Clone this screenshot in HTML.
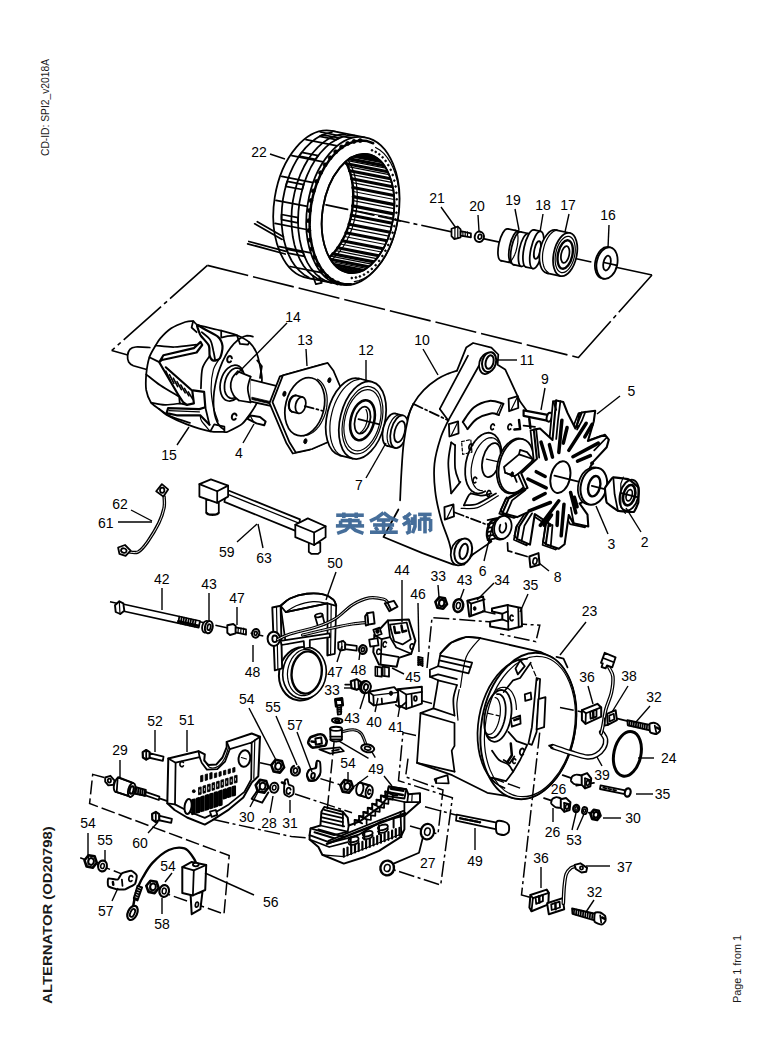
<!DOCTYPE html>
<html><head><meta charset="utf-8"><title>ALTERNATOR (OD20798)</title>
<style>
html,body{margin:0;padding:0;background:#fff;}
body{width:768px;height:1046px;overflow:hidden;position:relative;font-family:"Liberation Sans",sans-serif;}
svg{position:absolute;left:0;top:0;}
.l{font-family:"Liberation Sans",sans-serif;font-size:14px;fill:#000;stroke:none;}
.p{fill:#fff;stroke:#000;stroke-width:1.75;stroke-linejoin:round;stroke-linecap:round;}
.n{fill:none;stroke:#000;stroke-width:1.75;stroke-linejoin:round;stroke-linecap:round;}
.t{fill:none;stroke:#000;stroke-width:1.2;stroke-linecap:round;stroke-linejoin:round;}
.b{fill:none;stroke:#000;stroke-width:2.5;stroke-linecap:round;stroke-linejoin:round;}
.k{fill:#000;stroke:#000;stroke-width:0.8;stroke-linejoin:round;}
.w{fill:#fff;stroke:none;}
.ld{fill:none;stroke:#000;stroke-width:1.4;}
.d{fill:none;stroke:#000;stroke-width:1.6;stroke-dasharray:42 5;}
.dd{fill:none;stroke:#000;stroke-width:1.6;stroke-dasharray:50 4 4 4;}
.ds{fill:none;stroke:#000;stroke-width:1.5;stroke-dasharray:14 4;}
.dm{fill:none;stroke:#000;stroke-width:1.5;stroke-dasharray:16 3.5 3 3.5;}
.st{font-family:"Liberation Sans",sans-serif;fill:#1a1a1a;}
</style></head><body>
<svg width="768" height="1046" viewBox="0 0 768 1046">

<g id="p_side">
<text class="st" transform="translate(49.2,156) rotate(-90)" font-size="11.5" textLength="97" lengthAdjust="spacingAndGlyphs">CD-ID: SPI2_v2018A</text>
<text class="st" transform="translate(52.2,1003.7) rotate(-90)" font-size="13" font-weight="bold" textLength="177.5" lengthAdjust="spacingAndGlyphs">ALTERNATOR (OD20798)</text>
<text class="st" transform="translate(741.2,1003) rotate(-90)" font-size="11.5" textLength="68" lengthAdjust="spacingAndGlyphs">Page 1 from 1</text>
</g>
<g id="p_dash">
<path class="dd" d="M652 275 L326 204.8"/>
<path class="dd" d="M652 275 L578 358"/>
<path class="d" d="M207.4 265.4 L578 357.5"/>
<path class="dd" d="M207.4 265.4 L111.7 350.5"/>
<path class="dd" d="M111.7 350.5 L640 498"/>
<path class="dm" d="M427 668 L432 617.6 L539.8 625.3 L535.8 641.7 L500 634"/>
<path class="dm" d="M416 735.5 L403 732.6 L398.5 780.7 L452.4 797.7 L440.7 885 L388 868"/>
<path class="dm" d="M408 758.6 L405.6 776.8 L443 790 L438 834 L430 832"/>
<path class="dm" d="M213.5 819.6 L291.4 836.5 L310 838"/>
<path class="dm" d="M295 794 L352 812.8"/>
<path class="dm" d="M410 826 L424 830"/>
<path class="dm" d="M421.7 700.8 L432 703.5"/>
<path class="dm" d="M462 677.3 L477 680"/>
<path class="dm" d="M425 806.8 L456 815"/>
</g>
<g id="p_stator">
<ellipse class="p" cx="319.9" cy="204.5" rx="45.7" ry="74.6" transform="rotate(9 319.9 204.5)"/>
<path class="w" d="M364.6 137.3 L331.6 130.8 L308.2 278.2 L341.2 284.7 Z"/>
<path class="n" d="M364.6 137.3 L331.6 130.8"/>
<path class="n" d="M341.2 284.7 L308.2 278.2"/>
<path class="n" d="M331.4 282.8 L325.8 280.9 L320.5 277.9 L315.6 273.8 L311.2 268.6 L307.3 262.4 L304.1 255.4 L301.5 247.6 L299.6 239.2 L298.4 230.3 L298 221.1 L298.4 211.7 L299.5 202.2 L301.4 192.9 L303.9 183.8 L307.2 175.1 L311 167 L315.4 159.6 L320.3 153 L325.6 147.4 L331.1 142.7 L337 139.2 L342.9 136.7 L348.8 135.5 L354.7 135.5"/>
<path class="n" d="M322.5 280.9 L317.2 278.6 L312.2 275.3 L307.6 271 L303.5 265.7 L299.9 259.5 L296.9 252.6 L294.5 244.9 L292.8 236.8 L291.8 228.1 L291.4 219.2 L291.8 210.1 L292.9 200.9 L294.7 191.9 L297.1 183.1 L300.2 174.7 L303.9 166.8 L308 159.5 L312.7 153 L317.7 147.3 L323 142.6 L328.6 138.8 L334.3 136.1 L340 134.5 L345.7 134.1"/>
<path class="n" d="M308.8 277.4 L304 274.7 L299.6 270.9 L295.5 266.4 L291.8 261 L288.7 254.8 L286.1 248 L284 240.6 L282.6 232.8 L281.7 224.6 L281.5 216.2 L282 207.6 L283 199 L284.7 190.5 L286.9 182.2 L289.7 174.2 L293.1 166.7 L296.9 159.7 L301.1 153.3 L305.7 147.6 L310.6 142.8 L315.7 138.7 L321 135.6 L326.4 133.5 L331.8 132.3"/>
<path class="n" d="M321.4 272.7 L290.1 266.5"/>
<path class="n" d="M310.8 252.9 L279.5 246.7"/>
<path class="n" d="M306.5 229.5 L275.1 223.3"/>
<path class="n" d="M307.4 206.4 L276 200.3"/>
<path class="n" d="M313.1 182.6 L281.8 176.4"/>
<path class="n" d="M323.2 161.9 L291.9 155.7"/>
<path class="n" d="M337.3 145.9 L306 139.7"/>
<path class="n" d="M351.7 138.2 L320.3 132"/>
<path class="n" d="M304.5 256.4 L288 253.2 L286.4 249.1 L302.9 252.3 Z"/>
<path class="n" d="M298 222.8 L281.5 219.6 L281.6 214.5 L298.1 217.7 Z"/>
<path class="n" d="M302.2 189.5 L285.7 186.3 L287.2 181.4 L303.7 184.6 Z"/>
<path class="n" d="M315.6 159.3 L299.1 156.1 L301.7 152.4 L318.2 155.6 Z"/>
<path class="n" d="M336.2 139.6 L319.7 136.3 L322.9 134.8 L339.4 138 Z"/>
<ellipse class="p" cx="352.9" cy="211" rx="45.7" ry="74.6" transform="rotate(9 352.9 211)"/>
<path class="b" d="M350.9 284.2 L344.4 284.3 L338.2 282.8 L332.3 279.9 L326.9 275.5 L322 269.8 L317.9 262.9 L314.5 255 L312 246.1 L310.3 236.5 L309.6 226.4 L309.9 216.1 L311 205.6 L313.1 195.3 L316.1 185.4 L319.9 176 L324.4 167.4 L329.6 159.8 L335.3 153.2 L341.3 147.9 L347.7 144 L354.2 141.6 L360.7 140.6 L367.1 141.1 L373.2 143.2"/>
<path class="t" d="M375.6 147.5 L379.8 150 L383.8 153.4 L387.3 157.6 L390.5 162.6 L393.3 168.3 L395.6 174.5 L397.4 181.3 L398.6 188.6 L399.3 196.1 L399.4 203.9 L399 211.9 L398 219.8 L396.5 227.7 L394.4 235.4 L391.9 242.8 L388.9 249.7 L385.5 256.2 L381.7 262.2 L377.6 267.4 L373.2 271.9 L368.7 275.7 L363.9 278.6 L359.1 280.6 L354.3 281.7"/>
<circle cx="337.7" cy="283" r="2" class="k"/>
<circle cx="332" cy="280.3" r="2" class="k"/>
<circle cx="326.7" cy="276.3" r="2" class="k"/>
<circle cx="321.9" cy="271.1" r="2" class="k"/>
<circle cx="317.8" cy="264.7" r="2" class="k"/>
<circle cx="314.4" cy="257.3" r="2" class="k"/>
<circle cx="311.7" cy="249" r="2" class="k"/>
<circle cx="309.8" cy="240" r="2" class="k"/>
<circle cx="308.8" cy="230.5" r="2" class="k"/>
<circle cx="308.6" cy="220.7" r="2" class="k"/>
<circle cx="309.4" cy="210.6" r="2" class="k"/>
<circle cx="310.9" cy="200.6" r="2" class="k"/>
<circle cx="313.3" cy="190.9" r="2" class="k"/>
<circle cx="316.5" cy="181.5" r="2" class="k"/>
<circle cx="320.5" cy="172.8" r="2" class="k"/>
<circle cx="325" cy="164.8" r="2" class="k"/>
<circle cx="330.1" cy="157.8" r="2" class="k"/>
<circle cx="335.7" cy="151.8" r="2" class="k"/>
<circle cx="341.6" cy="147" r="2" class="k"/>
<circle cx="347.7" cy="143.5" r="2" class="k"/>
<circle cx="354" cy="141.4" r="2" class="k"/>
<circle cx="360.2" cy="140.6" r="2" class="k"/>
<circle cx="372" cy="150.3" r="0.9" class="k"/>
<circle cx="375.7" cy="151.9" r="0.9" class="k"/>
<circle cx="379.3" cy="154.3" r="0.9" class="k"/>
<circle cx="382.6" cy="157.3" r="0.9" class="k"/>
<circle cx="385.6" cy="160.9" r="0.9" class="k"/>
<circle cx="388.3" cy="165.1" r="0.9" class="k"/>
<circle cx="390.7" cy="169.8" r="0.9" class="k"/>
<circle cx="392.7" cy="175" r="0.9" class="k"/>
<circle cx="394.3" cy="180.6" r="0.9" class="k"/>
<circle cx="395.6" cy="186.5" r="0.9" class="k"/>
<circle cx="396.4" cy="192.8" r="0.9" class="k"/>
<circle cx="396.8" cy="199.3" r="0.9" class="k"/>
<circle cx="396.8" cy="206" r="0.9" class="k"/>
<circle cx="396.4" cy="212.7" r="0.9" class="k"/>
<circle cx="395.5" cy="219.4" r="0.9" class="k"/>
<circle cx="394.3" cy="226.1" r="0.9" class="k"/>
<circle cx="392.6" cy="232.7" r="0.9" class="k"/>
<circle cx="390.6" cy="239" r="0.9" class="k"/>
<circle cx="388.2" cy="245" r="0.9" class="k"/>
<circle cx="385.4" cy="250.7" r="0.9" class="k"/>
<circle cx="382.4" cy="256" r="0.9" class="k"/>
<circle cx="379.1" cy="260.9" r="0.9" class="k"/>
<circle cx="375.6" cy="265.2" r="0.9" class="k"/>
<circle cx="371.8" cy="268.9" r="0.9" class="k"/>
<circle cx="368" cy="272.1" r="0.9" class="k"/>
<circle cx="364" cy="274.6" r="0.9" class="k"/>
<circle cx="359.9" cy="276.4" r="0.9" class="k"/>
<circle cx="355.9" cy="277.5" r="0.9" class="k"/>
<circle cx="351.8" cy="278" r="0.9" class="k"/>
<ellipse class="p" cx="358" cy="213.5" rx="35.5" ry="60" transform="rotate(9 358 213.5)"/>
<clipPath id="boreclip"><ellipse cx="358" cy="213.5" rx="35.5" ry="60" transform="rotate(9 358 213.5)"/></clipPath>
<g clip-path="url(#boreclip)">
<path class="b" d="M328.8 146.8 L369.8 154.8" style="stroke-width:3.2"/>
<path class="t" d="M331.2 147.6 L372.2 155.6"/>
<path class="b" d="M334 149 L375 157" style="stroke-width:3.2"/>
<path class="t" d="M336.2 150.5 L377.2 158.5"/>
<path class="b" d="M338.8 152.6 L379.8 160.6" style="stroke-width:3.2"/>
<path class="t" d="M340.8 154.7 L381.8 162.7"/>
<path class="b" d="M343.1 157.6 L384.1 165.6" style="stroke-width:3.2"/>
<path class="t" d="M344.8 160.1 L385.8 168.1"/>
<path class="b" d="M346.7 163.7 L387.7 171.7" style="stroke-width:3.2"/>
<path class="t" d="M348.1 166.7 L389.1 174.7"/>
<path class="b" d="M349.6 170.8 L390.6 178.8" style="stroke-width:3.2"/>
<path class="t" d="M350.7 174.3 L391.7 182.3"/>
<path class="b" d="M351.7 178.8 L392.7 186.8" style="stroke-width:3.2"/>
<path class="t" d="M352.4 182.6 L393.4 190.6"/>
<path class="b" d="M352.9 187.5 L393.9 195.5" style="stroke-width:3.2"/>
<path class="t" d="M353.2 191.5 L394.2 199.5"/>
<path class="b" d="M353.3 196.6 L394.3 204.6" style="stroke-width:3.2"/>
<path class="t" d="M353.2 200.7 L394.2 208.7"/>
<path class="b" d="M352.7 205.9 L393.7 213.9" style="stroke-width:3.2"/>
<path class="t" d="M352.2 210 L393.2 218"/>
<path class="b" d="M351.3 215.2 L392.3 223.2" style="stroke-width:3.2"/>
<path class="t" d="M350.4 219.2 L391.4 227.2"/>
<path class="b" d="M349.1 224.2 L390.1 232.2" style="stroke-width:3.2"/>
<path class="t" d="M347.8 228.1 L388.8 236.1"/>
<path class="b" d="M346 232.8 L387 240.8" style="stroke-width:3.2"/>
<path class="t" d="M344.4 236.5 L385.4 244.5"/>
<path class="b" d="M342.2 240.8 L383.2 248.8" style="stroke-width:3.2"/>
<path class="t" d="M340.3 244 L381.3 252"/>
<path class="b" d="M337.8 247.8 L378.8 255.8" style="stroke-width:3.2"/>
<path class="t" d="M335.7 250.7 L376.7 258.7"/>
<path class="b" d="M332.9 253.9 L373.9 261.9" style="stroke-width:3.2"/>
<path class="t" d="M330.6 256.2 L371.6 264.2"/>
<path class="b" d="M327.6 258.7 L368.6 266.7" style="stroke-width:3.2"/>
<path class="t" d="M325.2 260.4 L366.2 268.4"/>
<path class="b" d="M322.1 262.2 L363.1 270.2" style="stroke-width:3.2"/>
<path class="t" d="M319.5 263.3 L360.5 271.3"/>
<path class="b" d="M316.4 264.3 L357.4 272.3" style="stroke-width:3.2"/>
<path class="t" d="M313.8 264.8 L354.8 272.8"/>
<path class="b" d="M310.7 265 L351.7 273" style="stroke-width:3.2"/>
<path class="t" d="M308.2 264.8 L349.2 272.8"/>
<path class="b" d="M323.3 146 L328.2 146.6 L332.8 148.3 L337.2 151.2 L341.1 155 L344.6 159.9 L347.6 165.6 L350 172 L351.8 179.1 L352.9 186.7 L353.3 194.7 L353 202.8 L352.1 211.1 L350.4 219.2 L348.2 227 L345.3 234.5 L341.9 241.3 L338 247.5 L333.8 252.9 L329.2 257.4 L324.3 261 L319.4 263.4 L314.4 264.7 L309.4 265 L304.6 264.1"/>
<path class="t" d="M327.3 147 L332.2 147.6 L336.8 149.3 L341.2 152.2 L345.1 156 L348.6 160.9 L351.6 166.6 L354 173 L355.8 180.1 L356.9 187.7 L357.3 195.7 L357 203.8 L356.1 212.1 L354.4 220.2 L352.2 228 L349.3 235.5 L345.9 242.3 L342 248.5 L337.8 253.9 L333.2 258.4 L328.3 262 L323.4 264.4 L318.4 265.7 L313.4 266 L308.6 265.1"/>
</g>
<ellipse class="n" cx="358" cy="213.5" rx="35.5" ry="60" transform="rotate(9 358 213.5)"/>
<path class="n" d="M254.7 223.8 L282.1 239.4"/>
<path class="n" d="M257.3 221.7 L283.4 236.8"/>
<path class="n" d="M247.7 243.8 L285.2 254"/>
<path class="n" d="M248.8 241.5 L286 251.4"/>
<path class="n" d="M312.8 275.8 L315.9 284.2 L321.7 282.9 L319.1 276.4"/>
<path class="n" d="M326 204.8 L402 221.2" stroke-dasharray="22 5"/>
</g>
<g id="p_top">
<path class="p" d="M451.5 228.8 L457.8 226.5 L460.6 229.3 L460.6 237.3 L454.3 239.1 L451.5 236.2 Z"/>
<path class="t" d="M454.9 228.2 L454.9 237.9"/>
<path class="t" d="M457.8 227 L457.8 237.9"/>
<path class="p" d="M460.6 231 L470.9 233.3 L470.9 237.3 L460.6 235.6 Z"/>
<path class="t" d="M462.9 231.9 L462.9 236.2"/>
<path class="t" d="M465.2 231.9 L465.2 236.2"/>
<path class="t" d="M467.5 231.9 L467.5 236.2"/>
<ellipse class="p" cx="479.3" cy="236.8" rx="4.6" ry="5.2" transform="rotate(12 479.3 236.8)" style="stroke-width:2"/>
<ellipse class="n" cx="479.9" cy="236.8" rx="1.8" ry="2.4" transform="rotate(12 479.9 236.8)"/>
<ellipse class="p" cx="504.3" cy="244.8" rx="5.5" ry="16.3" transform="rotate(12 504.3 244.8)"/>
<path class="w" d="M518.5 231.1 L507.7 228.9 L500.9 260.7 L511.7 263 Z"/>
<path class="n" d="M518.5 231.1 L507.7 228.9"/>
<path class="n" d="M511.7 263 L500.9 260.7"/>
<ellipse class="p" cx="515.1" cy="247.1" rx="5.5" ry="16.3" transform="rotate(12 515.1 247.1)"/>
<ellipse class="p" cx="517" cy="248.3" rx="5.5" ry="16.8" transform="rotate(12 517 248.3)"/>
<path class="w" d="M528.3 233.5 L520.5 231.9 L513.5 264.7 L521.3 266.4 Z"/>
<path class="n" d="M528.3 233.5 L520.5 231.9"/>
<path class="n" d="M521.3 266.4 L513.5 264.7"/>
<ellipse class="p" cx="524.8" cy="250" rx="5.5" ry="16.8" transform="rotate(12 524.8 250)"/>
<path class="t" d="M515 230 L515.7 230.3 L516.3 230.8 L516.8 231.7 L517.3 232.7 L517.6 234 L517.8 235.5 L518 237.1 L518 239 L517.9 240.9 L517.7 242.9 L517.4 245 L517 247.1 L516.5 249.2 L516 251.2 L515.3 253.1 L514.6 254.9 L513.8 256.6 L513 258 L512.2 259.3 L511.4 260.3 L510.6 261.1 L509.8 261.6 L509 261.9 L508.2 261.9"/>
<ellipse class="p" cx="530" cy="248.5" rx="6" ry="19" transform="rotate(12 530 248.5)"/>
<path class="w" d="M540.8 231.4 L534 229.9 L526.1 267.1 L532.9 268.5 Z"/>
<path class="n" d="M540.8 231.4 L534 229.9"/>
<path class="n" d="M532.9 268.5 L526.1 267.1"/>
<ellipse class="p" cx="536.8" cy="250" rx="6" ry="19" transform="rotate(12 536.8 250)"/>
<ellipse class="n" cx="537.4" cy="250" rx="3" ry="9" transform="rotate(12 537.4 250)"/>
<ellipse class="p" cx="551.5" cy="251.6" rx="11.5" ry="22" transform="rotate(12 551.5 251.6)"/>
<path class="w" d="M569.8 233 L556.1 230.1 L546.9 273.2 L560.6 276.1 Z"/>
<path class="n" d="M569.8 233 L556.1 230.1"/>
<path class="n" d="M560.6 276.1 L546.9 273.2"/>
<ellipse class="p" cx="565.2" cy="254.5" rx="11.5" ry="22" transform="rotate(12 565.2 254.5)"/>
<ellipse class="t" cx="565.2" cy="254.5" rx="9.5" ry="18.5" transform="rotate(12 565.2 254.5)"/>
<ellipse class="n" cx="565.2" cy="254.5" rx="7.2" ry="14.5" transform="rotate(12 565.2 254.5)" style="stroke-width:2.4"/>
<ellipse class="n" cx="565.2" cy="254.5" rx="4" ry="8.5" transform="rotate(12 565.2 254.5)"/>
<path class="t" d="M548.2 272.5 L547 271.6 L546 270.5 L545 269.1 L544.2 267.5 L543.6 265.7 L543.1 263.7 L542.7 261.5 L542.5 259.2 L542.5 256.8 L542.6 254.3 L542.9 251.8 L543.4 249.3 L544 246.8 L544.7 244.4 L545.6 242.1 L546.6 239.9 L547.7 237.9 L548.9 236 L550.2 234.4 L551.6 233 L553 231.8 L554.4 231 L555.8 230.4 L557.2 230.1"/>
<ellipse class="p" cx="605.5" cy="262.8" rx="10.3" ry="16" transform="rotate(12 605.5 262.8)"/>
<ellipse class="p" cx="607" cy="263.1" rx="10.3" ry="16" transform="rotate(12 607 263.1)" style="stroke-width:1.8"/>
<ellipse class="p" cx="607" cy="263.1" rx="3.6" ry="7.5" transform="rotate(12 607 263.1)" style="stroke-width:1.8"/>
<path class="n" d="M604 262.5 L617 265.3"/>
</g>
<g id="p_rotor">
<path class="p" d="M149.8 347.5 C147.5 347.4 139.1 346.7 135.8 347 C132.5 347.3 131.3 347.9 129.9 349.4 C128.6 350.8 127.8 353.6 127.6 355.7 C127.4 357.8 127.8 360.3 128.7 362 C129.7 363.7 130.1 364.4 133.4 365.8 C136.8 367.1 146.1 369.3 148.7 370"/>
<path class="p" d="M155.6 345.5 C156.9 343.3 158.5 340.4 160.3 338.4 C162.1 336.4 168.3 330.2 171.2 328.3 C174.2 326.4 182.8 322.9 185.3 322 C187.9 321.2 191.6 320.9 193.1 321.2 C194.6 321.6 194.8 324.1 198.1 325.2 C201.4 326.2 216.7 329.4 221.2 330.6 C225.8 331.8 233.6 333.9 236.9 335.3 C240.2 336.7 247.1 340.3 249.4 342.3 C251.7 344.3 255.2 349.7 256.4 352.5 C257.6 355.3 259.4 363 260 366.2 C260.6 369.5 262.3 375.9 261.9 380.3 C261.5 384.7 258.7 398.7 256.5 403.7 C254.2 408.8 245.8 420.4 242.4 423.7 C239 426.9 229.3 430.9 227.2 431.9 C225.1 432.8 226.3 431.9 224.4 431.9 C222.4 431.8 214.7 432.3 210.3 431.4 C205.9 430.5 192 426.3 186.9 424.4 C181.8 422.5 169.8 416.8 166.6 415 C163.3 413.2 160.6 410.2 158.8 408.8 C156.9 407.3 152.4 404.7 150.9 402.5 C149.5 400.3 146.8 393.3 146.2 390 C145.7 386.7 145.9 378.2 146.2 374.4 C146.6 370.5 148.3 360.6 149.4 357.2 C150.5 353.8 154.3 347.7 155.6 345.5 Z"/>
<path class="n" d="M224 429.5 L221.5 427.8 L219.2 425.4 L217.3 422.2 L215.8 418.4 L214.6 413.9 L213.8 409 L213.5 403.6 L213.6 397.8 L214.1 391.8 L215.1 385.6 L216.4 379.4 L218.1 373.3 L220.2 367.3 L222.5 361.6 L225.2 356.3 L228 351.4 L231.1 347.1 L234.3 343.3 L237.5 340.3 L240.8 338 L244 336.5 L247.1 335.7 L250.1 335.8 L252.9 336.7"/>
<ellipse class="p" cx="232.3" cy="383.1" rx="11.7" ry="18.3" transform="rotate(15 232.3 383.1)"/>
<path class="n" d="M235.4 397.3 L233.7 398 L232 398.3 L230.3 398.1 L228.8 397.4 L227.5 396.3 L226.3 394.8 L225.4 393 L224.8 390.9 L224.5 388.5 L224.5 385.9 L224.7 383.3 L225.3 380.7 L226.1 378.1 L227.2 375.7 L228.5 373.5 L230 371.7 L231.6 370.1 L233.3 369 L235 368.2 L236.7 368 L238.3 368.2 L239.8 368.8 L241.2 369.9 L242.3 371.4"/>
<path class="p" d="M250.1 379.4 L282.3 387.3 L277.6 407.3 L250.1 401.4 Z"/>
<path class="w" d="M236.6 371.4 L250.6 376.6 L250.6 402.3 L237.7 400.5 L231.4 392 L231.4 380.3 Z"/>
<path class="n" d="M237.7 371.4 C236.8 372.5 233.5 375.3 232.3 378 C231.2 380.6 230.5 384.4 230.7 387.3 C230.9 390.3 232.4 393.4 233.7 395.5 C235.1 397.7 238 399.6 238.9 400.5"/>
<path class="n" d="M237.7 371.4 L250.6 376.6"/>
<path class="n" d="M238.9 400.5 L250.6 402.3"/>
<path class="n" d="M250.6 376.6 C250.1 378.5 247.8 384.2 247.8 388.5 C247.8 392.8 250.1 400 250.6 402.3"/>
<path class="k" d="M251.8 397.2 L271.7 401.9 L271.7 404.2 L251.8 399.5 Z"/>
<path class="n" d="M231 361.3 L230.1 362.1 L229.1 362.4 L228.1 362 L227.5 361.2 L227.2 360 L227.3 358.6 L227.9 357.4 L228.7 356.5 L229.7 356.1 L230.7 356.3 L231.5 357 L231.9 358.2" style="stroke-width:2"/>
<path class="n" d="M235.7 418.7 L234.8 419.5 L233.8 419.8 L232.8 419.5 L232.1 418.6 L231.8 417.4 L232 416 L232.5 414.8 L233.4 413.9 L234.4 413.5 L235.4 413.7 L236.2 414.4 L236.5 415.6" style="stroke-width:2"/>
<path class="n" d="M257.2 360.4 L261.9 366.2 L260 378"/>
<path class="n" d="M159.5 361.9 L163.4 355.3 L193.9 348.1 L200.6 341.9 L202.2 345 L196.6 352.5 L161.9 360 Z" style="stroke-width:2.2"/>
<path class="n" d="M159.5 362.7 L179.1 396.2 L183.4 402.5 L186.9 404.8 L193.9 403.3 L192.3 390.8 L165.8 367.3" style="stroke-width:2.2"/>
<path class="n" d="M165.8 371.2 L170.2 380.3" style="stroke-width:1.6"/>
<path class="n" d="M169.5 374.7 L173.9 383.4" style="stroke-width:1.6"/>
<path class="n" d="M173.3 378.1 L177.7 386.6" style="stroke-width:1.6"/>
<path class="n" d="M177 381.6 L181.4 389.7" style="stroke-width:1.6"/>
<path class="n" d="M180.8 385 L185.2 392.8" style="stroke-width:1.6"/>
<path class="n" d="M184.5 388.4 L188.9 395.9" style="stroke-width:1.6"/>
<path class="n" d="M188.3 391.9 L192.7 399.1" style="stroke-width:1.6"/>
<path class="n" d="M179.1 396.2 L179.8 403.3 L186.9 404.8"/>
<path class="n" d="M155.6 345.5 C158.8 345.7 167.6 347.2 174.4 347 C181.1 346.9 192.6 345.1 196.2 344.7"/>
<path class="n" d="M149.4 357.2 L158.8 361.9"/>
<path class="n" d="M146.2 374.4 C148.6 376.2 155 381.7 160.3 385.3 C165.7 389 175.3 394.4 178.3 396.2"/>
<path class="n" d="M150.9 402.5 C153.3 402.9 160.1 404.7 165 404.8 C169.9 405 178 403.5 180.6 403.3"/>
<path class="n" d="M197 325.9 C197.5 327.2 199.1 332.7 200.6 335.3 C202.2 337.9 207.5 342.7 208.8 345.5 C210 348.2 209.1 353.9 209.7 355.9 C210.3 358 212.1 360.4 213.4 360.6 C214.8 360.9 218.8 359.9 220 358 C221.2 356.1 222.8 349.1 222.5 346.2 C222.2 343.4 220.4 339.1 218.1 336.9 C215.9 334.7 208.3 331.4 205.6 329.8 C203 328.3 199.1 325.8 198.1 325.2" style="stroke-width:2.2"/>
<path class="n" d="M201.7 332.2 C202.9 333.2 208.8 337.5 210.3 340 C211.9 342.5 212.8 348.3 213.4 350.9 C214.1 353.5 214.8 358.4 215 359.5"/>
<path class="n" d="M193.1 321.2 L191.6 327.5 L196.6 332.2"/>
<path class="n" d="M221.2 330.6 L221.2 337.7 L227.5 336.1 L236.9 335.3"/>
<path class="n" d="M236.9 335.3 L240 343.9 L247.8 344.7 L249.4 342.3"/>
<path class="n" d="M209.7 355.9 C208.5 358 204 362.7 202.5 368.1 C201 373.5 201.2 385.1 200.9 388.4"/>
<path class="t" d="M220 358 C218.9 359.9 214.9 364.6 213.4 369.7 C212 374.8 211.1 382.2 211.1 388.4 C211.1 394.7 212.3 401.7 213.4 407.2 C214.6 412.7 217.3 418.9 218.1 421.2"/>
<path class="n" d="M193.1 390.3 L204.1 391.9 L205.3 407.2 L199.4 409.1 L168.1 408.1 L166.6 413.1 L176.7 415.3 L200.2 415.3 L209.5 424.7" style="stroke-width:2.2"/>
<path class="n" d="M205.3 407.2 L209.5 424.7"/>
<path class="t" d="M168.9 410.6 L199.4 411.9"/>
<path class="n" d="M158.8 408.8 C160.8 410.1 166 414.2 171.2 416.6 C176.5 418.9 186.9 421.8 190 422.8"/>
<path class="t" d="M200.2 415.3 C200.4 416.3 200 418.6 201.7 421.2 C203.4 423.9 208.9 429.7 210.3 431.4"/>
<path class="n" d="M210.3 431.4 L214.2 424.4 L224.4 426.7 L224.4 431.9"/>
<path class="p" d="M247.1 418.7 L250.1 415.5 L260 416.9 L265.6 421.6 L264.2 425.3 L256.5 423.4 Z" style="stroke-width:2"/>
<path class="t" d="M250.1 415.5 L253.4 421.6"/>
</g>
<g id="p_mid">
<path class="p" d="M269.5 403.1 L279.9 376.4 L324.7 363.9 L330.3 371.4 L337.2 387.5 L337.2 413.5 L325.8 442.7 L309.1 450 L292.8 453.5 L286.2 442.7 Z"/>
<path class="p" d="M272.5 402.1 L282.9 375.4 L327.7 362.9 L333.3 370.4 L340.2 386.5 L340.2 412.5 L328.8 441.7 L312.1 449 L295.8 452.5 L289.2 441.7 Z"/>
<ellipse class="n" cx="304.8" cy="406.7" rx="19.2" ry="29.6" transform="rotate(14 304.8 406.7)"/>
<path class="t" d="M317.6 379.2 L319.5 380.5 L321.2 382.1 L322.8 384.1 L324.1 386.4 L325.3 389 L326.1 391.8 L326.8 394.8 L327.1 397.9 L327.2 401.2 L327 404.6 L326.6 407.9 L325.9 411.3 L324.9 414.6 L323.7 417.8 L322.3 420.8 L320.7 423.7 L318.9 426.3 L316.9 428.7 L314.8 430.7 L312.7 432.5 L310.4 433.8 L308.1 434.9 L305.8 435.5 L303.5 435.7"/>
<ellipse class="k" cx="284.4" cy="393.8" rx="1.6" ry="2.6" transform="rotate(14 284.4 393.8)"/>
<ellipse class="k" cx="329.4" cy="380.2" rx="1.6" ry="2.6" transform="rotate(14 329.4 380.2)"/>
<ellipse class="k" cx="305.4" cy="441.2" rx="1.6" ry="2.6" transform="rotate(14 305.4 441.2)"/>
<ellipse class="p" cx="293.8" cy="403.5" rx="5" ry="8.3" transform="rotate(14 293.8 403.5)"/>
<path class="w" d="M302.6 397.1 L295.8 395.4 L291.8 411.6 L298.6 413.3 Z"/>
<path class="n" d="M302.6 397.1 L295.8 395.4"/>
<path class="n" d="M298.6 413.3 L291.8 411.6"/>
<ellipse class="p" cx="300.6" cy="405.2" rx="5" ry="8.3" transform="rotate(14 300.6 405.2)"/>
<path class="n" d="M291.5 411.5 L291.1 411.1 L290.6 410.7 L290.2 410.1 L289.9 409.5 L289.6 408.8 L289.4 408 L289.2 407.2 L289.1 406.3 L289.1 405.4 L289.2 404.4 L289.3 403.5 L289.5 402.5 L289.8 401.6 L290.1 400.7 L290.5 399.8 L290.9 399 L291.4 398.3 L292 397.6 L292.5 397 L293.1 396.5 L293.7 396.1 L294.3 395.8 L294.9 395.7 L295.5 395.6"/>
<path class="n" d="M304.8 406.2 L322.5 410.8" stroke-dasharray="9 3 2 3"/>
<ellipse class="p" cx="349.4" cy="416.9" rx="22.3" ry="39.6" transform="rotate(14 349.4 416.9)"/>
<path class="w" d="M372.1 381.8 L359 378.5 L339.8 455.3 L352.9 458.6 Z"/>
<path class="n" d="M372.1 381.8 L359 378.5"/>
<path class="n" d="M352.9 458.6 L339.8 455.3"/>
<ellipse class="p" cx="362.5" cy="420.2" rx="22.3" ry="39.6" transform="rotate(14 362.5 420.2)"/>
<ellipse class="t" cx="362.5" cy="420.2" rx="19.2" ry="34.4" transform="rotate(14 362.5 420.2)"/>
<ellipse class="t" cx="362.5" cy="420.2" rx="17.5" ry="31.2" transform="rotate(14 362.5 420.2)"/>
<ellipse class="n" cx="362.5" cy="420.2" rx="11.7" ry="20.4" transform="rotate(14 362.5 420.2)" style="stroke-width:2.6"/>
<ellipse class="n" cx="362.5" cy="420.2" rx="7.5" ry="13.8" transform="rotate(14 362.5 420.2)"/>
<path class="t" d="M366 409.6 L366.4 410.3 L366.7 411.2 L367 412.1 L367.2 413 L367.4 414 L367.5 415.1 L367.5 416.2 L367.5 417.4 L367.4 418.5 L367.2 419.7 L367 420.9 L366.8 422 L366.5 423.2 L366.1 424.3 L365.7 425.4 L365.2 426.5 L364.7 427.5 L364.1 428.5 L363.6 429.3 L362.9 430.2 L362.3 430.9 L361.6 431.6 L360.9 432.2 L360.3 432.7"/>
<path class="t" d="M340.3 455.1 L338.1 453.5 L336.1 451.3 L334.4 448.8 L332.9 445.8 L331.7 442.4 L330.8 438.8 L330.2 434.8 L329.9 430.6 L329.9 426.3 L330.2 421.8 L330.9 417.3 L331.9 412.8 L333.1 408.4 L334.7 404.1 L336.5 400 L338.5 396.2 L340.7 392.6 L343.1 389.4 L345.6 386.6 L348.3 384.2 L351 382.3 L353.7 380.8 L356.5 379.9 L359.2 379.4"/>
<path class="n" d="M358.5 419.2 L378.5 424.2"/>
<ellipse class="p" cx="391.4" cy="429.7" rx="8.3" ry="16.7" transform="rotate(14 391.4 429.7)"/>
<path class="w" d="M403.2 415.5 L395.4 413.6 L387.4 445.9 L395.1 447.8 Z"/>
<path class="n" d="M403.2 415.5 L395.4 413.6"/>
<path class="n" d="M395.1 447.8 L387.4 445.9"/>
<ellipse class="p" cx="399.2" cy="431.7" rx="8.3" ry="16.7" transform="rotate(14 399.2 431.7)"/>
<ellipse class="n" cx="399.7" cy="431.7" rx="5" ry="10.8" transform="rotate(14 399.7 431.7)"/>
<path class="t" d="M390.8 446.7 L390 446.1 L389.3 445.2 L388.6 444.2 L388.1 442.9 L387.7 441.5 L387.4 440 L387.2 438.4 L387.1 436.6 L387.2 434.8 L387.4 432.9 L387.7 431 L388.1 429.2 L388.6 427.3 L389.2 425.5 L389.9 423.7 L390.8 422.1 L391.6 420.6 L392.6 419.2 L393.6 418 L394.6 417 L395.6 416.2 L396.7 415.5 L397.7 415.1 L398.7 414.9"/>
</g>
<g id="p_housing10">
<path class="w" d="M457 370.6 L466.2 347.6 L473.1 343 L491.4 347.6 L498.3 354.5 L497.6 364.8 L505.2 369.4 L520.1 401.6 L529.3 414.2 L541.9 431.4 L541.9 495.7 L514.4 525.5 L491.4 541.6 L473.1 554.2 L463.9 564.6 L453.5 564.6 L422.5 553.1 L383.5 537 L398.4 509.5 L400.7 472.7 L403 442.9 L407.6 417.6 L413.4 403.9 L423.7 390.1 L437.5 378.6 Z"/>
<path class="p" d="M407.6 417.6 C408.6 415.3 410.7 408.5 413.4 403.9 C416 399.3 419.7 394.2 423.7 390.1 C427.7 386 433.4 381.8 437.5 379.1 C441.6 376.3 445 375 448.3 373.6 C451.5 372.2 455.5 371.1 457 370.6"/>
<path class="n" d="M457 370.6 L466.2 347.6 L473.1 343 L491.4 347.6 L498.3 354.5 L497.6 364.8 L505.2 369.4 L520.1 401.6 L529.3 414.2"/>
<path class="n" d="M473.1 554.2 L463.9 564.6 L453.5 564.6 L422.5 553.1 L383.5 537 L398.4 509.5"/>
<path class="n" d="M491.4 541.6 L473.1 554.2"/>
<path class="n" d="M468 355.7 L439.8 408.9"/>
<path class="n" d="M478.8 366 L448.3 420.4"/>
<path class="n" d="M439.8 408.9 L448.3 420.4"/>
<path class="n" d="M413.4 403.9 L448.3 420.4" stroke-dasharray="10 3 2 3"/>
<ellipse class="p" cx="486.6" cy="363.6" rx="7.3" ry="10.6" transform="rotate(14 486.6 363.6)"/>
<ellipse class="p" cx="489.1" cy="362.1" rx="6.9" ry="10.1" transform="rotate(14 489.1 362.1)" style="stroke-width:2"/>
<ellipse class="p" cx="489.6" cy="362.1" rx="3.9" ry="6.9" transform="rotate(14 489.6 362.1)" style="stroke-width:2"/>
<path class="n" d="M448.3 420.4 C447 423.4 442.8 431.1 440.5 438.3 C438.2 445.5 435.4 454.8 434.5 463.6 C433.6 472.4 434.1 481.9 435.2 491.1 C436.2 500.3 438.6 510.2 440.9 518.7 C443.2 527.1 446.8 534.3 448.9 541.6 C451.1 548.9 452.8 558.8 453.5 562.3"/>
<path class="n" d="M413.4 403.9 C412.6 405.8 410.4 408.8 408.8 415.3 C407.2 421.9 404.9 433.3 403.7 442.9 C402.5 452.5 402 463.2 401.4 472.7 C400.8 482.3 400.3 495.7 400.1 500.3"/>
<ellipse class="p" cx="460.2" cy="552.3" rx="9.2" ry="13.3" transform="rotate(14 460.2 552.3)"/>
<ellipse class="p" cx="463.2" cy="551.3" rx="8.7" ry="12.9" transform="rotate(14 463.2 551.3)" style="stroke-width:2"/>
<ellipse class="p" cx="463.7" cy="551.3" rx="3.9" ry="7.8" transform="rotate(14 463.7 551.3)" style="stroke-width:2"/>
<path class="n" d="M448.9 424.1 L458.1 421.3 L458.6 433.3 L449.4 436.5 Z" style="stroke-width:1.8"/>
<path class="t" d="M451.2 435.6 L457.7 422.2"/>
<path class="n" d="M508.6 398.8 L517.8 396.1 L518.3 408 L509.1 411.2 Z" style="stroke-width:1.8"/>
<path class="t" d="M510.9 410.3 L517.4 397"/>
<path class="n" d="M444.4 507.2 L453.5 504.4 L454 516.4 L444.8 519.6 Z" style="stroke-width:1.8"/>
<path class="t" d="M446.7 518.7 L453.1 505.3"/>
<path class="n" d="M462.8 422 C464.6 419.6 469.3 411 473.8 407.5 C478.2 404 484.4 401.6 489.4 400.9 C494.3 400.3 501.1 403.3 503.4 403.8" style="stroke-width:2"/>
<path class="n" d="M467.5 429.1 C469.1 427.4 473 421.5 476.9 418.9 C480.8 416.3 487.3 414.1 490.9 413.4 C494.6 412.8 497.4 414.7 498.8 415" style="stroke-width:2"/>
<path class="n" d="M462.8 422 L467.5 429.1"/>
<path class="n" d="M503.4 403.8 L498.8 415"/>
<path class="t" d="M501.1 404.4 L496.9 413.4"/>
<path class="n" d="M451.2 442.4 C450.7 446 448.3 455.1 448.3 463.6 C448.3 472.1 450.7 488.4 451.2 493.4"/>
<path class="n" d="M455.1 445.2 C455.1 449 454.5 462 455.1 468.1 C455.8 474.3 458.6 479.6 459.3 481.9"/>
<path class="n" d="M451.2 442.4 L455.1 445.2"/>
<path class="n" d="M451.2 493.4 L460.4 481.9"/>
<path class="n" d="M463.9 505.3 C466.2 505.1 472.3 505.7 477.6 503.7 C483 501.7 492.9 495.1 496 493.4"/>
<path class="n" d="M463.9 505.3 C464.6 503.7 467.3 497.7 468.5 495.7 C469.6 493.7 470.4 493.8 470.8 493.4"/>
<path class="n" d="M470.8 493.4 C472.7 493.8 478.8 495.7 482.2 495.7 C485.7 495.7 489.9 493.8 491.4 493.4"/>
<path class="t" d="M461.1 508.3 C463.9 508.2 471.4 509.7 477.6 507.6 C483.8 505.5 494.9 497.7 498.3 495.7"/>
<path class="n" d="M485.2 491.2 L481.7 492.9 L478.1 493.5 L474.8 492.8 L471.8 491.1 L469.3 488.2 L467.3 484.4 L465.9 479.8 L465.2 474.5 L465.2 468.8 L465.8 462.9 L467.2 457 L469.2 451.3 L471.7 446.1 L474.7 441.5 L478 437.7 L481.5 435 L485.1 433.3 L488.6 432.7 L492 433.4 L494.9 435.1 L497.5 438 L499.5 441.8 L500.9 446.4 L501.6 451.7"/>
<path class="t" d="M482.3 490.6 L480 490.4 L477.9 489.6 L476 488.1 L474.3 486 L473 483.4 L472 480.3 L471.4 476.7 L471.1 472.8 L471.2 468.7 L471.8 464.5 L472.7 460.3 L473.9 456.1 L475.5 452.2 L477.3 448.6 L479.4 445.4 L481.7 442.6 L484.1 440.4 L486.5 438.8 L488.9 437.9 L491.3 437.6 L493.5 438 L495.6 439.1 L497.4 440.8 L499 443.1"/>
<ellipse class="p" cx="491.4" cy="460.1" rx="8.7" ry="17.4" transform="rotate(14 491.4 460.1)"/>
<path class="t" d="M486.4 459.1 L497.4 461.7"/>
<path class="n" d="M493.4 429 L492.5 429.7 L491.7 429.7 L491 429 L490.7 427.8 L490.8 426.4 L491.4 425.1 L492.2 424.2 L493.1 423.9 L493.9 424.3 L494.4 425.3" style="stroke-width:1.7"/>
<path class="n" d="M475.8 482.3 L474.9 482.9 L474 482.9 L473.3 482.3 L473 481.1 L473.1 479.7 L473.7 478.3 L474.5 477.4 L475.4 477.1 L476.2 477.6 L476.7 478.5" style="stroke-width:1.7"/>
<path class="n" d="M471.6 449 L470.7 449.7 L469.9 449.6 L469.2 449 L468.9 447.8 L469 446.4 L469.6 445 L470.4 444.1 L471.3 443.9 L472.1 444.3 L472.6 445.3" style="stroke-width:1.7"/>
<path class="n" d="M510.7 429 L509.8 429.7 L508.9 429.7 L508.2 429 L507.9 427.8 L508 426.4 L508.6 425.1 L509.4 424.2 L510.3 423.9 L511.1 424.3 L511.6 425.3" style="stroke-width:1.7"/>
<path class="n" d="M489.5 495.6 L488.6 496.3 L487.8 496.3 L487.1 495.6 L486.8 494.4 L486.9 493 L487.5 491.7 L488.3 490.7 L489.2 490.5 L490 490.9 L490.5 491.9" style="stroke-width:1.7"/>
<path class="t" d="M461.6 441.7 L470.8 439.5 L471.9 452.1 L462.7 454.4 Z" stroke-dasharray="3 2"/>
<path class="p" d="M523.6 410.3 L547.7 414.9 L548.4 420.9 L523.6 415.8 Z" style="stroke-width:2.2"/>
<ellipse class="p" cx="549.3" cy="417.2" rx="2.5" ry="4.5" transform="rotate(14 549.3 417.2)" style="stroke-width:2"/>
<path class="b" d="M519 419.9 L520.1 429.1 L514.4 429.6"/>
<path class="b" d="M529.3 418.8 L530.4 428"/>
<path class="n" d="M523.6 425.7 L535 426.8"/>
<ellipse class="p" cx="514.7" cy="465.9" rx="17.2" ry="28" transform="rotate(14 514.7 465.9)"/>
<ellipse class="p" cx="516.2" cy="465.9" rx="16.8" ry="27.5" transform="rotate(14 516.2 465.9)"/>
<path class="p" d="M504 467 L519 454.4 L532.7 459 L530.4 465.9 L514.4 476.2 L505.2 472.7 Z"/>
<path class="n" d="M519 454.4 L520.1 449.8 L527 452.1 L532.7 459"/>
<path class="n" d="M505.2 472.7 L514.4 476.2 L516.7 481.9"/>
<ellipse class="k" cx="512.1" cy="474.3" rx="1.5" ry="2.5" transform="rotate(14 512.1 474.3)"/>
<path class="n" d="M454.2 512.2 L489.1 525.5" stroke-dasharray="10 3 2 3"/>
<path class="n" d="M487.6 520.1 L496.6 518.1"/>
<path class="n" d="M487.6 524.1 L496.6 522.1"/>
<path class="n" d="M487.6 528.1 L496.6 526.1"/>
<path class="n" d="M487.6 532.1 L496.6 530.1"/>
<path class="n" d="M487.6 536.1 L496.6 534.1"/>
<path class="n" d="M487.6 540.1 L496.6 538.1"/>
<path class="b" d="M490.8 540.9 L490 540.9 L489.3 540.6 L488.7 540.1 L488.2 539.5 L487.7 538.6 L487.4 537.5 L487.1 536.3 L487 535 L487 533.5 L487.1 532 L487.3 530.5 L487.7 528.9 L488.1 527.4 L488.6 525.9 L489.3 524.5 L489.9 523.2 L490.7 522.1 L491.5 521.2 L492.3 520.4 L493.1 519.8 L493.9 519.5 L494.6 519.4 L495.4 519.5 L496 519.8"/>
<ellipse class="p" cx="501.4" cy="527.9" rx="8.7" ry="11.9" transform="rotate(14 501.4 527.9)"/>
<ellipse class="p" cx="502.9" cy="527.4" rx="8.5" ry="11.7" transform="rotate(14 502.9 527.4)"/>
<path class="n" d="M505.6 523.1 L506.1 524.4 L506.3 526 L506.1 527.8 L505.6 529.5 L504.8 530.9 L503.8 532 L502.7 532.7 L501.6 532.7 L500.7 532.3 L500 531.3 L499.6 529.9 L499.5 528.2 L499.8 526.5 L500.4 524.8" style="stroke-width:1.8"/>
<path class="p" d="M529.3 556.5 L538.5 553.1 L539.6 564.6 L530.4 567.3 Z" style="stroke-width:2"/>
<ellipse class="n" cx="535" cy="561.1" rx="2" ry="3.2" transform="rotate(14 535 561.1)" style="stroke-width:1.6"/>
<path class="n" d="M507.5 542.8 L507.9 550.8 L529.3 557.2" stroke-dasharray="12 4"/>
</g>
<g id="p_fan">
<path class="p" d="M553 401.2 L560.1 402.9 L564.3 413.7 L572.2 429.3 L578.5 413.3 L592 411.6 L590.5 422.1 L584.7 441.8 L601.8 435.6 L605.5 440.4 L603.5 448.1 L589.9 462.7 L586.8 468.3 L595.1 478.3 L595.1 495 L576.4 504.3 L584.3 515.4 L585.1 527.3 L570.1 524.1 L565.5 515.8 L561.4 545 L555.5 549.5 L542.6 545 L545.5 524.1 L531.6 514.8 L526.8 545.4 L513.9 539.8 L516 527.3 L525.3 512.7 L513.9 517.9 L499.3 513.7 L505.6 499.1 L524.3 488.7 L518 474.1 L533.7 459.6 L530.5 430.4 L536.8 429.3 L549.3 440.8 Z"/>
<path class="p" d="M556.2 400.4 L563.3 402.1 L567.5 412.9 L575.4 428.5 L581.7 412.5 L595.2 410.8 L593.8 421.2 L587.9 441 L605 434.8 L608.8 439.6 L606.7 447.3 L593.1 461.9 L590 467.5 L598.3 477.5 L598.3 494.2 L579.6 503.5 L587.5 514.6 L588.3 526.5 L573.3 523.3 L568.8 515 L564.6 544.2 L558.8 548.8 L545.8 544.2 L548.8 523.3 L534.8 514 L530 544.6 L517.1 539 L519.2 526.5 L528.5 511.9 L517.1 517.1 L502.5 512.9 L508.8 498.3 L527.5 487.9 L521.2 473.3 L536.9 458.8 L533.8 429.6 L540 428.5 L552.5 440 Z" style="stroke-width:2.1"/>
<path class="n" d="M556.2 400.4 L553.5 402.1"/>
<path class="n" d="M553.5 402.1 L556.2 409.8"/>
<path class="n" d="M581.7 412.5 L579.2 413.3"/>
<path class="n" d="M579.2 413.3 L577.5 423.3"/>
<path class="n" d="M517.1 539 L514.6 535.8"/>
<path class="n" d="M514.6 535.8 L517.1 525.4"/>
<path class="n" d="M545.8 544.2 L543.1 541.7"/>
<path class="n" d="M543.1 541.7 L545.8 525.4"/>
<path class="n" d="M573.3 523.3 L572.3 520.2"/>
<path class="n" d="M502.5 512.9 L500.8 509.8"/>
<path class="n" d="M500.8 509.8 L506.7 497.3"/>
<path class="n" d="M560.4 401.2 L557.9 421.2 L556.2 439"/>
<path class="n" d="M585.4 411.7 L581.7 421.2 L577.1 429.6"/>
<path class="n" d="M521.7 540.4 L524.4 525.8 L532.1 513.3"/>
<path class="n" d="M550.8 545.8 L552.5 525"/>
<path class="n" d="M573.8 523.3 L570.8 507.7"/>
<path class="n" d="M506.2 514.2 L512.1 500.4 L525.4 490"/>
<path class="n" d="M536.2 429.6 L539.2 457.7"/>
<path class="n" d="M606.7 437.5 L594.2 450.4"/>
<path class="n" d="M561.9 420.2 L558.8 452.5" style="stroke-width:3.5"/>
<path class="n" d="M567.1 427.5 L563.3 443.1" style="stroke-width:3.5"/>
<path class="n" d="M586.2 423.3 L568.8 450.4" style="stroke-width:3.5"/>
<path class="n" d="M592.1 424.4 L584.8 436.9" style="stroke-width:3.5"/>
<path class="n" d="M598.3 443.1 L572.9 456.7" style="stroke-width:3.5"/>
<path class="n" d="M590.4 455.6 L577.5 461.2" style="stroke-width:3.5"/>
<path class="n" d="M541 442.1 L546.2 459.2" style="stroke-width:3.5"/>
<path class="n" d="M549.4 444.6 L552.5 457.1" style="stroke-width:3.5"/>
<path class="n" d="M536.2 471.7 L545.2 476.5" style="stroke-width:3.5"/>
<path class="n" d="M527.9 479 L546.2 487.9" style="stroke-width:3.5"/>
<path class="n" d="M545.2 493.5 L533.8 499.4" style="stroke-width:3.5"/>
<path class="n" d="M550.4 502.5 L529.2 510.8" style="stroke-width:3.5"/>
<path class="n" d="M558.8 500.8 L540.4 525.4" style="stroke-width:3.5"/>
<path class="n" d="M551.5 515 L544.2 525.4" style="stroke-width:3.5"/>
<path class="n" d="M564 504.2 L561.2 535.8" style="stroke-width:3.5"/>
<path class="n" d="M557.7 511.9 L557.1 525.4" style="stroke-width:3.5"/>
<path class="n" d="M570.6 492.5 L575.8 512.9" style="stroke-width:3.5"/>
<path class="n" d="M574.4 497.3 L577.1 506.7" style="stroke-width:3.5"/>
<circle cx="592.1" cy="463.3" r="1.6" class="k"/>
<circle cx="550" cy="525" r="1.6" class="k"/>
<circle cx="577.5" cy="426.5" r="1.6" class="k"/>
<ellipse class="p" cx="560.4" cy="477.1" rx="9.6" ry="16.2" transform="rotate(14 560.4 477.1)" style="stroke-width:1.9"/>
<path class="n" d="M554.4 475.6 L582.4 482.6"/>
<ellipse class="p" cx="591.2" cy="485.8" rx="12.9" ry="18.8" transform="rotate(14 591.2 485.8)"/>
<ellipse class="p" cx="593.8" cy="486.2" rx="12.9" ry="18.8" transform="rotate(14 593.8 486.2)" style="stroke-width:2"/>
<ellipse class="p" cx="594.2" cy="486.2" rx="5.8" ry="10.4" transform="rotate(14 594.2 486.2)" style="stroke-width:2.4"/>
<path class="n" d="M591.8 485.8 L607.8 489.8"/>
<path class="p" d="M605 487.9 C605.2 486.9 612 477.9 612.9 477.5 C613.9 477.1 627.5 478.8 628.5 479.2 C629.6 479.6 637.9 486.6 638.3 487.5 C638.7 488.4 638.5 501.5 638.3 502.5 C638.2 503.5 634.6 511.5 633.8 511.9 C632.9 512.2 619.2 511.2 618.1 510.8 C617 510.5 607.2 503.4 606.7 502.5 C606.1 501.6 604.8 488.9 605 487.9 Z" style="stroke-width:2.2"/>
<path class="n" d="M613.3 477.5 L614.6 494.2 L617.9 510.8"/>
<path class="t" d="M623.3 477.1 L620.8 483.8 L620.8 506.7 L625.4 513.3"/>
<ellipse class="n" cx="629.2" cy="495.2" rx="9.2" ry="15.8" transform="rotate(14 629.2 495.2)" style="stroke-width:1.9"/>
<ellipse class="n" cx="629.2" cy="495.2" rx="5.8" ry="10.4" transform="rotate(14 629.2 495.2)" style="stroke-width:2.6"/>
<ellipse class="n" cx="629.2" cy="495.2" rx="2.9" ry="5.8" transform="rotate(14 629.2 495.2)"/>
<path class="n" d="M621.2 493.2 L637.2 497.2"/>
</g>
<g id="p_left">
<path class="n" d="M164.1 496.6 C164.1 498.4 164.9 503.1 164.1 507.5 C163.2 511.9 161.5 517.4 158.8 523.1 C156 528.9 150.9 537.1 147.5 541.9 C144.1 546.7 141.2 550.2 138.1 551.9 C135 553.5 130.3 551.9 128.8 551.9" style="stroke-width:3.4"/>
<path class="n" d="M164.1 496.6 C164.1 498.4 164.9 503.1 164.1 507.5 C163.2 511.9 161.5 517.4 158.8 523.1 C156 528.9 150.9 537.1 147.5 541.9 C144.1 546.7 141.2 550.2 138.1 551.9 C135 553.5 130.3 551.9 128.8 551.9" style="stroke:#fff;stroke-width:0.9"/>
<path class="p" d="M161.9 484.1 L168.1 489.4 L163.4 496.6 L156.2 491.2 Z" style="stroke-width:1.8"/>
<ellipse class="n" cx="162.2" cy="490.3" rx="2.2" ry="2.6" transform="rotate(0 162.2 490.3)"/>
<path class="p" d="M118.1 547.5 L125 545 L130.6 550.6 L125.6 555.9 L119.4 553.8 Z" style="stroke-width:1.8"/>
<ellipse class="n" cx="123.8" cy="550.6" rx="2.8" ry="2.2" transform="rotate(20 123.8 550.6)"/>
<path class="p" d="M206.2 499.7 L206.2 512.2 L208.8 514.4 L216.2 514.4 L218.8 512.5 L218.8 501.2 Z"/>
<path class="n" d="M218.8 512.8 L218.7 513.1 L218.5 513.4 L218.3 513.6 L217.9 513.9 L217.5 514.1 L216.9 514.4 L216.3 514.5 L215.6 514.7 L214.9 514.8 L214.1 514.9 L213.3 515 L212.5 515 L211.7 515 L210.9 514.9 L210.1 514.8 L209.4 514.7 L208.7 514.5 L208.1 514.4 L207.5 514.1 L207.1 513.9 L206.7 513.6 L206.5 513.4 L206.3 513.1 L206.2 512.8"/>
<path class="p" d="M308.8 542.5 L308.8 551.9 L311.2 553.8 L318.1 553.8 L320.3 551.9 L320.3 542.5 Z"/>
<path class="p" d="M226.6 489.7 L300 519.4 L297.5 531.6 L224.4 501.9 Z"/>
<path class="t" d="M225.6 493.4 L298.8 523.1"/>
<path class="p" d="M199.4 484.1 L210.9 479.4 L228.1 485.6 L228.1 496.6 L217.2 502.8 L199.4 496.6 Z" style="stroke-width:1.8"/>
<path class="n" d="M199.4 484.1 L217.2 491.2 L228.1 485.6"/>
<path class="n" d="M217.2 491.2 L217.2 502.8"/>
<path class="p" d="M295.3 524.7 L307.8 518.4 L325.6 526.2 L325.6 537.2 L314.1 545 L295.3 537.2 Z" style="stroke-width:1.8"/>
<path class="n" d="M295.3 524.7 L314.1 532.5 L325.6 526.2"/>
<path class="n" d="M314.1 532.5 L314.1 545"/>
<path class="ds" d="M110 601.7 L263.3 636"/>
<path class="p" d="M122.7 604 L200 621 L198.7 627.7 L122.7 611 Z"/>
<path class="p" d="M115 605.3 L119.3 601.3 L123.3 603.3 L124.3 610.7 L120.3 614 L115.7 612 Z" style="stroke-width:1.9"/>
<path class="t" d="M119.3 601.3 L120 614"/>
<path class="n" d="M179.3 616.7 L178.3 623"/>
<path class="n" d="M181.7 617.2 L180.7 623.5"/>
<path class="n" d="M184 617.7 L183 624.1"/>
<path class="n" d="M186.3 618.3 L185.3 624.6"/>
<path class="n" d="M188.7 618.8 L187.7 625.1"/>
<path class="n" d="M191 619.3 L190 625.7"/>
<path class="n" d="M193.3 619.9 L192.3 626.2"/>
<path class="n" d="M195.7 620.4 L194.7 626.7"/>
<path class="b" d="M178.3 621.3 L198.3 625.7"/>
<ellipse class="p" cx="205.8" cy="626.7" rx="3.6" ry="6" transform="rotate(12 205.8 626.7)" style="stroke-width:1.8"/>
<ellipse class="p" cx="208.8" cy="627.2" rx="3.8" ry="6.2" transform="rotate(12 208.8 627.2)" style="stroke-width:2"/>
<ellipse class="n" cx="209" cy="627.2" rx="1.6" ry="3" transform="rotate(12 209 627.2)"/>
<path class="p" d="M227.3 625.3 L233.3 624 L235.7 626 L235.7 633.3 L230 635 L227.3 632.7 Z" style="stroke-width:1.9"/>
<path class="p" d="M235.7 627.3 L246 629.3 L246 634.7 L235.7 632.3 Z"/>
<path class="t" d="M238.3 628 L238 633.3"/>
<path class="t" d="M241 628 L240.7 633.3"/>
<path class="t" d="M243.7 628 L243.3 633.3"/>
<ellipse class="p" cx="255.7" cy="633.3" rx="3.6" ry="4.4" transform="rotate(12 255.7 633.3)" style="stroke-width:2"/>
<ellipse class="n" cx="255.7" cy="633.3" rx="1.4" ry="2" transform="rotate(12 255.7 633.3)"/>
</g>
<g id="p_reg">
<ellipse class="p" cx="301.5" cy="673.9" rx="22.5" ry="26.7" transform="rotate(8 301.5 673.9)" style="stroke-width:2"/>
<ellipse class="p" cx="304.5" cy="672.9" rx="21.7" ry="26" transform="rotate(8 304.5 672.9)" style="stroke-width:1.6"/>
<ellipse class="p" cx="306.7" cy="672.5" rx="15" ry="21.2" transform="rotate(8 306.7 672.5)" style="stroke-width:2.4"/>
<path class="t" d="M310.3 693.7 L307.4 695 L304.4 695.7 L301.4 695.6 L298.5 694.8 L295.8 693.4 L293.4 691.3 L291.3 688.7 L289.6 685.5 L288.4 682 L287.7 678.2 L287.4 674.2 L287.7 670.1 L288.6 666.1 L289.9 662.4 L291.6 658.9 L293.8 655.8 L296.3 653.3 L299 651.3 L301.9 650 L304.9 649.3 L307.9 649.4 L310.8 650.2 L313.5 651.6 L315.9 653.7"/>
<path class="p" d="M280.6 605.8 C282.2 604.6 285.7 600.6 290 598.5 C294.3 596.5 301.1 594.4 306.7 593.8 C312.2 593.1 318.9 593.4 323.3 594.4 C327.8 595.3 331.2 597.7 333.3 599.6 C335.5 601.5 335.8 604.8 336.2 605.8" style="stroke-width:1.9"/>
<path class="p" d="M280.6 605.8 L285.8 612.1 L327.5 603.3 L336.2 605.8 L334.8 653.8 L327.5 655.4 L327.5 635 L285.8 643.8 Z"/>
<path class="n" d="M280.6 605.8 C282.2 604.6 285.7 600.6 290 598.5 C294.3 596.5 301.1 594.4 306.7 593.8 C312.2 593.1 318.9 593.4 323.3 594.4 C327.8 595.3 331.2 597.7 333.3 599.6 C335.5 601.5 335.8 604.8 336.2 605.8" style="stroke-width:1.9"/>
<path class="n" d="M285.8 612.1 L327.5 603.3 L327.5 655.4"/>
<path class="t" d="M331.2 604.8 L330.6 654.8"/>
<path class="t" d="M285.8 612.1 C287.6 611 291.7 607.6 296.2 605.8 C300.8 604.1 307.7 602.1 312.9 601.7 C318.1 601.2 325.1 603.1 327.5 603.3"/>
<path class="p" d="M272.3 607.5 L280.6 605.8 L282.1 668.3 L274.8 670.4 Z" style="stroke-width:1.9"/>
<path class="t" d="M276.5 606.9 L277.9 669.4"/>
<path class="p" d="M315 616.2 L322.3 614.2 L324.8 624.6 L318.1 626.7 Z"/>
<ellipse class="p" cx="318.8" cy="615.4" rx="3.8" ry="1.7" transform="rotate(-12 318.8 615.4)"/>
<path class="p" d="M280.6 640.8 L329.6 633.3 L330 637.1 L309.8 640 L309.8 647.5 L304.2 648.5 L303.8 641.2 L281.7 645 Z"/>
<ellipse class="p" cx="273.8" cy="638.8" rx="6.2" ry="7.1" transform="rotate(0 273.8 638.8)" style="stroke-width:2"/>
<ellipse class="p" cx="274.8" cy="638.8" rx="2.5" ry="3.3" transform="rotate(0 274.8 638.8)" style="stroke-width:1.8"/>
<path class="n" d="M277.5 639.6 C279.6 638.6 283.4 636.1 290 634 C296.6 631.8 309.4 629.3 317.1 626.7 C324.7 624.1 329.9 622 335.8 618.3 C341.7 614.7 346.9 608.2 352.5 604.8 C358.1 601.4 364 598.9 369.2 597.9 C374.4 597 380.6 598.4 383.8 599.2 C386.9 600 387.2 602.1 387.9 602.7" style="stroke-width:3.2"/>
<path class="n" d="M277.5 639.6 C279.6 638.6 283.4 636.1 290 634 C296.6 631.8 309.4 629.3 317.1 626.7 C324.7 624.1 329.9 622 335.8 618.3 C341.7 614.7 346.9 608.2 352.5 604.8 C358.1 601.4 364 598.9 369.2 597.9 C374.4 597 380.6 598.4 383.8 599.2 C386.9 600 387.2 602.1 387.9 602.7" style="stroke:#fff;stroke-width:0.9000000000000004"/>
<path class="n" d="M302.5 635 C307.7 633.8 325.4 629.5 333.8 627.7 C342.1 625.9 346.9 624.8 352.5 624 C358.1 623.1 365 622.7 367.5 622.5" style="stroke-width:3.2"/>
<path class="n" d="M302.5 635 C307.7 633.8 325.4 629.5 333.8 627.7 C342.1 625.9 346.9 624.8 352.5 624 C358.1 623.1 365 622.7 367.5 622.5" style="stroke:#fff;stroke-width:0.9000000000000004"/>
<path class="p" d="M384.8 603.3 L393.8 600.8 L397.5 606.7 L389.4 611.2 Z" style="stroke-width:1.9"/>
<path class="n" d="M387.5 602.5 L391.2 610"/>
<path class="p" d="M367.1 613.3 L373.3 612.1 L374.6 623.5 L368.3 624.6 Z" style="stroke-width:1.9"/>
<path class="p" d="M367.1 613.3 L365 616.2 L365.8 625.6 L368.3 624.6 Z"/>
<path class="p" d="M338.3 642.3 L343.1 640.8 L345.2 642.9 L345.2 649.6 L340.4 650.6 L338.3 648.5 Z" style="stroke-width:1.9"/>
<path class="p" d="M345.2 644.4 L356.7 645.8 L356.7 650.6 L345.2 649.2 Z"/>
<path class="t" d="M341.7 641.2 L342.1 650.4"/>
<ellipse class="p" cx="362.9" cy="649.6" rx="3.8" ry="4.4" transform="rotate(10 362.9 649.6)" style="stroke-width:2.2"/>
<ellipse class="n" cx="362.9" cy="649.6" rx="1.5" ry="2.1" transform="rotate(10 362.9 649.6)"/>
<path class="p" d="M374.4 635 L387.9 620.4 L408.8 619.4 L415.4 640.8 L411.2 653.8 L398.8 657.9 L396.7 666.7 L379 664.6 L373.3 652.1 Z" style="stroke-width:2"/>
<path class="n" d="M387.9 620.4 L390 637.1 L396.2 647.5 L411.2 653.8"/>
<path class="n" d="M390 624.6 L406.7 622.5 L410.8 639.2 L402.5 644.4 L394.2 641.2 L391 629.8 Z"/>
<path class="b" d="M394.2 626.7 L395.2 632.9 L399.4 632.5"/>
<path class="b" d="M401.5 625.6 L402.5 631.9 L406.2 630.8"/>
<path class="n" d="M374.4 635 L381.7 639.2 L390 637.1"/>
<path class="n" d="M381.7 639.2 L380.6 664.2"/>
<path class="n" d="M380.6 653.8 L398.3 656.9"/>
<path class="n" d="M385.8 646.4 L385 647 L384.1 647.1 L383.4 646.5 L383 645.4 L383 644.1 L383.5 642.8 L384.2 641.9 L385.1 641.6 L385.9 641.9 L386.5 642.8" style="stroke-width:1.6"/>
<path class="n" d="M379.6 653.7 L378.8 654.3 L377.9 654.4 L377.1 653.8 L376.7 652.7 L376.8 651.4 L377.2 650.1 L378 649.2 L378.8 648.9 L379.7 649.2 L380.2 650.1" style="stroke-width:1.6"/>
<path class="n" d="M412.9 648.5 L412.1 649.1 L411.2 649.2 L410.5 648.6 L410.1 647.5 L410.1 646.1 L410.5 644.9 L411.3 644 L412.2 643.7 L413 644 L413.5 644.9" style="stroke-width:1.6"/>
<path class="p" d="M369.2 639.6 L377.5 638.1 L378.5 645.4 L370.2 646.7 Z" style="stroke-width:1.8"/>
<path class="p" d="M373.3 629.8 L379.6 627.7 L381.7 634 L375.4 636 Z" style="stroke-width:1.8"/>
<ellipse class="k" cx="377.5" cy="631.2" rx="1.8" ry="2.2" transform="rotate(0 377.5 631.2)"/>
<path class="p" d="M375.4 666.7 L381.7 667.5 L381.7 676.7 L375.4 675.8 Z" style="stroke-width:1.8"/>
<path class="t" d="M377.5 667.1 L377.5 676.2"/>
<path class="p" d="M382.7 666.7 L389 667.5 L389 676.7 L382.7 675.8 Z" style="stroke-width:1.8"/>
<path class="t" d="M384.8 667.1 L384.8 676.2"/>
<path class="n" d="M418.3 656.9 L422.5 657.9" style="stroke-width:1.8"/>
<path class="n" d="M418.3 658.8 L422.5 659.8" style="stroke-width:1.8"/>
<path class="n" d="M418.3 660.6 L422.5 661.7" style="stroke-width:1.8"/>
<path class="n" d="M418.3 662.5 L422.5 663.5" style="stroke-width:1.8"/>
<path class="n" d="M418.3 664.4 L422.5 665.4" style="stroke-width:1.8"/>
<path class="n" d="M418.3 656.9 L418.3 665.2"/>
<path class="n" d="M422.5 657.9 L422.5 666.2"/>
<path class="n" d="M345.2 684.6 L350.4 684.6"/>
<path class="p" d="M350.8 681.2 L356.7 679.2 L360.8 681.9 L361.2 687.5 L356.7 689.8 L351.5 688.1 Z" style="stroke-width:2.2"/>
<path class="n" d="M354.6 680.4 L355 689.2"/>
<path class="n" d="M358.3 680.4 L358.8 689.2"/>
<ellipse class="p" cx="365" cy="687.1" rx="5.2" ry="6.2" transform="rotate(10 365 687.1)" style="stroke-width:2"/>
<ellipse class="p" cx="366" cy="687.1" rx="4.8" ry="5.8" transform="rotate(10 366 687.1)" style="stroke-width:2"/>
<ellipse class="n" cx="366" cy="687.1" rx="2.1" ry="3.1" transform="rotate(10 366 687.1)" style="stroke-width:1.8"/>
<path class="p" d="M368.8 691.7 L394.2 687.1 L398.8 692.3 L396.7 701.7 L373.8 705.4 L369.2 701.7 Z" style="stroke-width:1.9"/>
<path class="n" d="M368.8 691.7 L373.3 695.4 L373.8 705.4"/>
<path class="t" d="M373.3 695.4 L398.3 692.3"/>
<ellipse class="k" cx="391" cy="693.3" rx="1.6" ry="2.2" transform="rotate(0 391 693.3)"/>
<path class="n" d="M381.7 698.5 L382.1 703.8"/>
<path class="p" d="M397.9 689.3 L421.9 686.7 L421.9 703.6 L406.2 708.9 L399 705.7 Z" style="stroke-width:1.9"/>
<path class="n" d="M397.9 689.3 L406.2 694.5 L421.9 691.9"/>
<path class="n" d="M406.2 694.5 L406.2 708.9"/>
<path class="n" d="M411.5 693.8 L412 706.2"/>
<path class="n" d="M395.8 704.9 L399.7 707.6 L406.2 702.3"/>
<ellipse class="n" cx="415.4" cy="698.4" rx="1.4" ry="2.4" transform="rotate(0 415.4 698.4)"/>
<path class="p" d="M335.4 699.5 L341.9 698.4 L342.7 705.2 L336.2 706.2 Z" style="stroke-width:2.8"/>
<path class="p" d="M337.2 705.7 L341.1 705.5 L341.1 714.1 L337.8 714.6 Z"/>
<path class="n" d="M337.5 707.8 L341.4 707.6"/>
<path class="n" d="M337.5 709.9 L341.4 709.6"/>
<path class="n" d="M337.5 712 L341.4 711.7"/>
<ellipse class="p" cx="337.2" cy="720.6" rx="5.2" ry="2.3" transform="rotate(5 337.2 720.6)" style="stroke-width:2"/>
<ellipse class="n" cx="337.2" cy="720.6" rx="2.3" ry="1" transform="rotate(5 337.2 720.6)"/>
</g>
<g id="p_h23">
<path class="p" d="M440.5 653.4 L451 642.8 L466.2 637 L480.3 638.1 L541.2 652.2 L552.7 657.9 L558.7 662.7 L564 669.1 L568.4 676.7 L572 685.5 L574.5 695.2 L575.9 705.7 L576.2 716.6 L575.5 727.8 L573.6 738.9 L570.6 749.7 L566.7 759.9 L561.9 769.4 L556.3 777.9 L550.1 785.1 L543.3 791 L536.2 795.3 L529 798.1 L521.7 799.1 L514.5 798.5 L507.7 796.2 L487.3 792.8 L452.2 775.2 L417 762.8 L420.5 713.1 L433.4 708.4 L437 687.3 L438.1 680.3 L429.9 676.8 L429.9 669.8 L438.1 666.2 Z"/>
<path class="n" d="M440.5 653.4 C442.2 651.6 446.7 645.5 451 642.8 C455.3 640.1 461.4 637.7 466.2 637 C471.1 636.2 478 637.9 480.3 638.1"/>
<ellipse class="p" cx="528.4" cy="726" rx="46.9" ry="73.8" transform="rotate(10 528.4 726)" style="stroke-width:1.9"/>
<ellipse class="n" cx="529.9" cy="726.5" rx="44.4" ry="70.8" transform="rotate(10 529.9 726.5)" style="stroke-width:1.2"/>
<path class="n" d="M556.5 656.9 L563.5 658.7 L567.5 667.4"/>
<path class="n" d="M504.5 788 L499.7 785.9 L495.3 782.9 L491.3 779 L487.7 774.3 L484.6 768.8 L482 762.6 L479.9 755.8 L478.5 748.5 L477.7 740.9 L477.5 733 L478 725 L479.1 716.9 L480.8 709 L483.1 701.3 L486 693.9 L489.3 687 L493.2 680.7 L497.4 675 L502 670.1 L506.8 665.9 L511.8 662.7 L516.9 660.4 L522.1 659.1 L527.2 658.8"/>
<path class="n" d="M440.5 655.7 L472.1 662.7 L468.6 673.3 L438.1 666.2"/>
<path class="n" d="M439.3 660.4 L470.5 667.4"/>
<path class="n" d="M429.9 676.8 L438.1 674.4 L456.9 679.1"/>
<path class="n" d="M438.1 680.3 L456.9 685"/>
<path class="n" d="M456.9 685 C456.3 687.3 453.7 694 453.4 699.1 C453 704.1 454.3 712.7 454.5 715.5"/>
<path class="n" d="M433.4 708.4 L454.5 715.5"/>
<path class="n" d="M420.5 713.1 L454.5 723 L454.5 745.9 L451.7 750.6 L454.5 771.7"/>
<path class="n" d="M417 762.8 L454.5 771.7"/>
<path class="t" d="M459.2 689.7 C458.8 692 457.1 698.7 456.9 703.7 C456.7 708.8 457.8 717.4 458 720.1"/>
<path class="t" d="M480.3 638.1 C478 641.2 469.6 648.7 466.2 656.9 C462.9 665.1 461.4 682.3 460.4 687.3"/>
<path class="p" d="M434.6 779.2 L447.5 775.2 L448.7 783.4 L436.2 783 Z"/>
<path class="n" d="M436.2 783 L436.2 779.2"/>
<ellipse class="n" cx="497.9" cy="715.9" rx="13.1" ry="26.2" transform="rotate(10 497.9 715.9)" style="stroke-width:1.8"/>
<path class="n" d="M496.9 694 L498.6 694 L500.2 694.5 L501.6 695.6 L502.9 697.1 L504 699.2 L504.8 701.7 L505.4 704.5 L505.7 707.7 L505.7 711 L505.5 714.5 L505 718 L504.2 721.5 L503.2 724.8 L502 727.9 L500.6 730.7 L499 733.1 L497.4 735.1 L495.7 736.6 L493.9 737.5 L492.2 737.9 L490.6 737.8 L489 737 L487.7 735.8 L486.5 734"/>
<path class="t" d="M495.1 697.5 L496.2 697.9 L497.3 698.6 L498.2 699.8 L498.9 701.3 L499.5 703.1 L500 705.1 L500.3 707.4 L500.4 709.9 L500.3 712.5 L500.1 715.2 L499.6 717.8 L499 720.5 L498.3 723.1 L497.4 725.5 L496.4 727.7 L495.4 729.6 L494.2 731.3 L493 732.6 L491.8 733.6 L490.5 734.2 L489.3 734.4 L488.2 734.3 L487.1 733.7 L486.1 732.8"/>
<path class="t" d="M496.5 690 L497.7 689.1 L498.9 688.5 L500.1 687.9 L501.3 687.5 L502.5 687.3 L503.7 687.3 L504.9 687.4 L506 687.6 L507.1 688 L508.2 688.6 L509.2 689.3 L510.1 690.1 L511.1 691.1 L511.9 692.2 L512.7 693.5 L513.4 694.9 L514.1 696.4 L514.7 698 L515.2 699.7 L515.6 701.5 L515.9 703.4 L516.2 705.3 L516.3 707.4 L516.4 709.4"/>
<path class="n" d="M530.7 662.7 L520.1 678 L513.1 680.3 L503.7 692"/>
<path class="n" d="M520.1 660.4 L515.5 668.6 L517.8 674.4 L524.8 666.2 Z" style="stroke-width:1.8"/>
<path class="p" d="M536.6 678 L540.1 679.1 L536.6 731.9 L531.9 744.8 L528.4 743.6 L531.9 727.2 Z"/>
<path class="p" d="M538.4 699.1 L545.5 697.2 L544.1 727.2 L536.6 729.5 Z" style="stroke-width:1.8"/>
<path class="p" d="M524.8 694.4 L530.7 692.5 L531.4 699.1 L525.3 700.9 Z" style="stroke-width:1.8"/>
<path class="p" d="M510.8 719 L520.1 715.5 L520.6 723.7 L511.9 726.7 Z" style="stroke-width:1.8"/>
<path class="b" d="M514.3 720.1 L519 718.5"/>
<path class="n" d="M508.4 731.9 L516.6 741.2 L527.2 744.8 L520.1 760 L513.1 771.7 L506.1 781.1 L492 777.6"/>
<path class="n" d="M492 750.6 C493.2 752.2 496.3 757.6 499.1 760 C501.8 762.3 506.1 762.7 508.4 764.7 C510.8 766.6 512.3 770.5 513.1 771.7"/>
<path class="b" d="M510.8 743.6 L511.9 755.3 L507.3 762.3"/>
<path class="n" d="M523.3 754.2 L522.3 755 L521.2 755.1 L520.3 754.3 L519.8 753 L519.9 751.4 L520.4 749.9 L521.3 748.8 L522.4 748.4 L523.4 748.8 L524.1 749.9" style="stroke-width:1.8"/>
<path class="n" d="M515.2 762.9 L514.5 763.5 L513.7 763.5 L513.1 763 L512.7 762 L512.7 760.9 L513.1 759.8 L513.8 759 L514.5 758.8 L515.3 759.1 L515.8 759.9" style="stroke-width:1.6"/>
<path class="n" d="M503.7 760 L509.6 763.5 L514.3 756.5"/>
<path class="t" d="M530.7 663.9 L537.7 680.3" stroke-dasharray="5 3"/>
<path class="ds" d="M490.9 777.6 L520.1 788.1"/>
<path class="t" d="M487.3 713.1 L499.1 715.9" stroke-dasharray="6 3"/>
<path class="dm" d="M539.7 732.6 L521.5 895 L533 898"/>
</g>
<g id="p_cover">
<path class="p" d="M168.3 758.5 L198.5 751.2 L204.8 754.4 L204.2 760.6 L208.3 765 L216.2 764.6 L222.5 757.5 L226.7 747.1 L226.7 741.9 L251.7 733.5 L260 736.7 L258.3 776.2 L251.7 782.5 L243.3 797.5 L228.8 809.6 L212.1 820.4 L204.8 824.6 L187.1 817.5 L174.6 810 L167.3 803.3 Z" style="stroke-width:2"/>
<path class="n" d="M175.6 762.7 L199.6 757.1 L201.7 762.7 L206.9 769.6 L217.3 769.2 L225 761.7 L229.8 749.2 L251.7 742.5 L251.2 779.4 L244.4 791.9 L228.8 804.4 L212.1 814.2 L204.8 817.9 L189.2 811.7 L175 804.4 Z"/>
<path class="n" d="M168.3 758.5 L175.6 762.7"/>
<path class="n" d="M198.5 751.2 L199.6 757.1"/>
<path class="n" d="M226.7 741.9 L229.8 749.2"/>
<path class="n" d="M260 736.7 L251.7 742.5"/>
<path class="n" d="M167.3 803.3 L175 804.4"/>
<path class="t" d="M254.8 739.8 L253.8 778.3"/>
<path class="t" d="M204.8 760.6 C205.7 761.8 207.7 766.6 210 767.5 C212.3 768.4 215.9 767.7 218.3 766.2 C220.8 764.8 222.9 761.6 224.6 758.5 C226.2 755.5 227.7 749.9 228.3 748.1"/>
<ellipse class="p" cx="244.4" cy="758.5" rx="5.8" ry="8.3" transform="rotate(8 244.4 758.5)" style="stroke-width:2"/>
<path class="t" d="M241.4 757.5 L246.4 759"/>
<ellipse class="p" cx="188.1" cy="806.5" rx="3.5" ry="7.5" transform="rotate(8 188.1 806.5)" style="stroke-width:2"/>
<path class="n" d="M183.4 765.8 L182.6 766.6 L181.7 766.8 L180.8 766.3 L180.1 765.4 L179.9 764.2 L180.1 762.9 L180.8 762 L181.7 761.6 L182.6 761.8 L183.4 762.5" style="stroke-width:1.6"/>
<path class="k" d="M200.6 775.8 L202.9 775.2 L202.9 781.2 L200.6 781.9 Z"/>
<path class="k" d="M205.2 774.5 L207.5 773.9 L207.5 779.9 L205.2 780.5 Z"/>
<path class="k" d="M209.8 773.1 L212.1 772.5 L212.1 778.5 L209.8 779.2 Z"/>
<path class="k" d="M214.4 773.4 L216.7 772.8 L216.7 777.2 L214.4 777.8 Z"/>
<path class="k" d="M219 772.1 L221.2 771.5 L221.2 775.8 L219 776.5 Z"/>
<path class="k" d="M223.5 770.7 L225.8 770.1 L225.8 774.5 L223.5 775.1 Z"/>
<path class="k" d="M228.1 769.4 L230.4 768.8 L230.4 773.1 L228.1 773.8 Z"/>
<path class="k" d="M232.7 768 L235 767.4 L235 771.8 L232.7 772.4 Z"/>
<path class="k" d="M198.5 787.5 L201.2 786.9 L201.2 794.2 L198.5 794.8 Z"/>
<path class="w" d="M199.5 789.6 L200.2 789.4 L200.2 792.3 L199.5 792.5 Z"/>
<path class="k" d="M203 786 L205.7 785.4 L205.7 792.7 L203 793.3 Z"/>
<path class="w" d="M204 788.1 L204.7 787.9 L204.7 790.8 L204 791 Z"/>
<path class="k" d="M207.5 784.6 L210.2 784 L210.2 791.2 L207.5 791.9 Z"/>
<path class="w" d="M208.4 786.7 L209.2 786.5 L209.2 789.4 L208.4 789.6 Z"/>
<path class="k" d="M212 783.1 L214.7 782.5 L214.7 789.8 L212 790.4 Z"/>
<path class="w" d="M212.9 785.2 L213.6 785 L213.6 787.9 L212.9 788.1 Z"/>
<path class="k" d="M216.5 781.7 L219.2 781 L219.2 788.3 L216.5 789 Z"/>
<path class="w" d="M217.4 783.8 L218.1 783.5 L218.1 786.5 L217.4 786.7 Z"/>
<path class="k" d="M220.9 780.2 L223.6 779.6 L223.6 786.9 L220.9 787.5 Z"/>
<path class="w" d="M221.9 782.3 L222.6 782.1 L222.6 785 L221.9 785.2 Z"/>
<path class="k" d="M225.4 778.8 L228.1 778.1 L228.1 785.4 L225.4 786 Z"/>
<path class="w" d="M226.4 780.8 L227.1 780.6 L227.1 783.5 L226.4 783.8 Z"/>
<path class="k" d="M229.9 777.3 L232.6 776.7 L232.6 784 L229.9 784.6 Z"/>
<path class="w" d="M230.8 779.4 L231.6 779.2 L231.6 782.1 L230.8 782.3 Z"/>
<path class="k" d="M234.4 775.8 L237.1 775.2 L237.1 782.5 L234.4 783.1 Z"/>
<path class="w" d="M235.3 777.9 L236 777.7 L236 780.6 L235.3 780.8 Z"/>
<circle cx="193.8" cy="791.2" r="1.5" class="k"/>
<path class="n" d="M192.3 800.2 L194.6 799.6 L194.6 813.3 L192.3 814 Z" style="stroke-width:2.3"/>
<path class="n" d="M196.8 798.8 L199.1 798.1 L199.1 811.9 L196.8 812.5 Z" style="stroke-width:2.3"/>
<path class="n" d="M201.2 797.3 L203.5 796.7 L203.5 810.4 L201.2 811 Z" style="stroke-width:2.3"/>
<path class="n" d="M205.7 795.8 L208 795.2 L208 809 L205.7 809.6 Z" style="stroke-width:2.3"/>
<path class="n" d="M210.2 794.4 L212.5 793.8 L212.5 807.5 L210.2 808.1 Z" style="stroke-width:2.3"/>
<path class="n" d="M214.7 792.9 L217 792.3 L217 806 L214.7 806.7 Z" style="stroke-width:2.3"/>
<path class="n" d="M219.2 791.5 L221.5 790.8 L221.5 804.6 L219.2 805.2 Z" style="stroke-width:2.3"/>
<path class="n" d="M223.6 790 L225.9 789.4 L225.9 797.7 L223.6 798.3 Z" style="stroke-width:2.3"/>
<path class="n" d="M228.1 788.5 L230.4 787.9 L230.4 796.2 L228.1 796.9 Z" style="stroke-width:2.3"/>
<path class="n" d="M232.6 787.1 L234.9 786.5 L234.9 794.8 L232.6 795.4 Z" style="stroke-width:2.3"/>
<path class="p" d="M210 811.7 L215.8 810 L217.3 814.8 L211.7 816.9 Z" style="stroke-width:1.8"/>
<path class="ds" d="M260 762.7 L272.5 765.4"/>
<path class="p" d="M284.1 767.4 L279.9 772.6 L273.6 771.5 L271.3 765.1 L275.5 759.9 L281.9 761 Z" style="stroke-width:2.6"/>
<ellipse class="n" cx="278.2" cy="766.2" rx="2.9" ry="3.5" transform="rotate(10 278.2 766.2)" style="stroke-width:2"/>
<path class="t" d="M275.5 759.9 L275 770.1"/>
<path class="n" d="M298.3 766.7 L299.2 768 L299.8 769.4 L299.8 771.1 L299.4 772.6 L298.5 774 L297.4 775 L296 775.5 L294.5 775.5 L293.2 775 L292.1 774.1 L291.3 772.7 L291 771.2 L291.1 769.5 L291.7 768 L292.7 766.8 L294 766" style="stroke-width:2.2"/>
<path class="n" d="M297.4 771 L296.9 772.2 L296 773 L295 773.2 L294 772.7 L293.5 771.6 L293.4 770.3 L293.9 769 L294.8 768.2 L295.9 768.1 L296.8 768.6 L297.3 769.6 L297.4 771"/>
<path class="p" d="M306.9 775.2 C306.9 774.1 308.1 770.7 309 770 C309.8 769.3 314.4 769.2 315.2 768.3 C316 767.5 316.2 762.2 316.7 761.7 C317.1 761.1 319.3 761.4 319.6 762.7 C319.9 764 320.4 772.8 320 774.6 C319.6 776.4 316.3 779.8 315.2 780.4 C314.1 781 309.8 781.4 309 780.8 C308.1 780.3 306.9 776.3 306.9 775.2 Z" style="stroke-width:1.9"/>
<ellipse class="n" cx="312.7" cy="774.8" rx="1.8" ry="2.6" transform="rotate(10 312.7 774.8)" style="stroke-width:1.8"/>
<path class="n" d="M257.9 789.8 L251.7 798.8 L262.1 802.7 L268.3 792.5" style="stroke-width:1.9"/>
<path class="p" d="M268.4 787.4 L264.3 792.6 L257.9 791.5 L255.7 785.1 L259.9 779.9 L266.2 781 Z" style="stroke-width:2.6"/>
<ellipse class="n" cx="262.6" cy="786.2" rx="2.9" ry="3.5" transform="rotate(10 262.6 786.2)" style="stroke-width:2"/>
<path class="t" d="M259.9 779.9 L259.4 790.1"/>
<ellipse class="p" cx="274.2" cy="787.7" rx="4.2" ry="5" transform="rotate(10 274.2 787.7)" style="stroke-width:2"/>
<ellipse class="n" cx="274.2" cy="787.7" rx="1.8" ry="2.4" transform="rotate(10 274.2 787.7)" style="stroke-width:1.5"/>
<path class="p" d="M285 780.4 C285.3 779.7 287.1 779 287.5 779.4 C287.9 779.8 288.2 783.9 288.8 784.6 C289.3 785.3 292.9 785.7 293.3 786.7 C293.8 787.6 293.8 793 293.3 794 C292.9 795 290 796.7 289.2 796.7 C288.3 796.7 285.1 795 284.6 794 C284.1 793 284.1 788 284.2 786.7 C284.2 785.3 284.7 781.1 285 780.4 Z" style="stroke-width:1.9"/>
<path class="n" d="M290.1 792.7 L289.1 793.8 L288 794 L287 793.4 L286.4 792.1 L286.4 790.5 L286.9 788.9 L287.9 787.9 L289.1 787.7 L290.1 788.3 L290.7 789.6" style="stroke-width:1.8"/>
<path class="b" d="M281.9 782.5 L285 783.5"/>
</g>
<g id="p_rect">
<path class="p" d="M309.6 835.2 L310.6 828.4 L320.4 825.5 L321.4 811.8 L324.3 806.9 L342.9 811.8 L347.7 817.7 L348.7 825.5 L359.5 821.6 L380.9 805.9 L386.8 798.1 L388.8 786.4 L406.3 789.3 L408.3 794.2 L420 793.2 L420 802 L404.4 815.7 L404.4 829.4 L400.5 837.2 L379 850.9 L365.3 856.7 L343.8 863.6 L322.3 854.8 L318.4 847 L309.6 839.5 Z" style="stroke-width:2"/>
<path class="n" d="M322.3 813.4 L342.9 818.2" style="stroke-width:1.8"/>
<path class="n" d="M322 817.3 L342.9 822.1" style="stroke-width:1.8"/>
<path class="n" d="M321.4 821.2 L344.2 826.4" style="stroke-width:1.8"/>
<path class="n" d="M324.3 809.8 L342.9 814.7" style="stroke-width:1.8"/>
<path class="n" d="M342.9 811.8 L342.9 826.4"/>
<path class="n" d="M320.4 825.5 L347.7 831.7 L348.7 825.5"/>
<path class="n" d="M310.6 828.4 L334.1 835.2 L347.7 831.7"/>
<path class="n" d="M309.6 835.2 L330.2 842.7 L347.7 838.2 L359.5 834.3 L380.9 821.6 L404.4 815.7" style="stroke-width:1.9"/>
<path class="n" d="M309.6 839.5 L329.2 847 L347.7 842.1"/>
<path class="n" d="M354.7 824.7 L354.7 820 L359.1 820.6 L359.1 820.6 L359.1 815.9 L363.4 816.6 L363.4 816.6 L363.4 811.9 L367.8 812.5 L367.8 812.5 L367.8 807.8 L372.2 808.4 L372.2 808.4 L372.2 803.8 L376.6 804.4 L376.6 804.4 L376.6 799.7 L380.9 800.3 L380.9 800.3 L380.9 795.6 L385.3 796.2 L385.3 796.2 L385.3 791.6 L389.7 792.2" style="stroke-width:2"/>
<path class="n" d="M366.6 824.1 L366.6 819.4 L370.9 820 L370.9 820 L370.9 815.3 L375.3 815.9 L375.3 815.9 L375.3 811.2 L379.7 811.9 L379.7 811.9 L379.7 807.2 L384.1 807.8 L384.1 807.8 L384.1 803.1 L388.4 803.8 L388.4 803.8 L388.4 799.1 L392.8 799.7 L392.8 799.7 L392.8 795 L397.2 795.6" style="stroke-width:1.7"/>
<path class="n" d="M354.7 820 L362.2 823.4"/>
<path class="n" d="M359.1 815.9 L366.6 819.4"/>
<path class="n" d="M363.4 811.9 L370.9 815.3"/>
<path class="n" d="M367.8 807.8 L375.3 811.2"/>
<path class="n" d="M372.2 803.8 L379.7 807.2"/>
<path class="n" d="M376.6 799.7 L384.1 803.1"/>
<path class="n" d="M380.9 795.6 L388.4 799.1"/>
<path class="n" d="M385.3 791.6 L392.8 795"/>
<path class="b" d="M326.9 843.8 L370.6 826.6 L405 813.3"/>
<path class="n" d="M328.4 840.9 L370.6 823.8 L403.4 810.9"/>
<path class="n" d="M388.8 786.4 L406.3 789.3 L404.4 798.5 L386.8 796.2 Z" style="stroke-width:1.8"/>
<path class="b" d="M391.1 788.8 L403.4 790.7"/>
<path class="b" d="M390.3 792.7 L402.8 795"/>
<path class="n" d="M408.3 794.2 L407.3 802 L420 802"/>
<path class="n" d="M386.8 798.1 L404.4 802 L407.3 802"/>
<path class="n" d="M404.4 802 L404.4 815.7"/>
<path class="t" d="M412.2 793.8 L411.8 801.1"/>
<ellipse class="p" cx="353.6" cy="839.5" rx="5.1" ry="2.5" transform="rotate(-15 353.6 839.5)" style="stroke-width:1.8"/>
<path class="n" d="M358.5 840.8 L358.5 841.1 L358.5 841.5 L358.4 841.9 L358.2 842.2 L357.9 842.6 L357.5 842.9 L357.1 843.3 L356.6 843.6 L356.1 843.9 L355.5 844.2 L354.9 844.4 L354.3 844.6 L353.6 844.7 L353 844.8 L352.3 844.9 L351.7 844.9 L351.1 844.9 L350.6 844.8 L350.1 844.7 L349.7 844.5 L349.3 844.3 L349 844 L348.8 843.8 L348.7 843.4"/>
<ellipse class="p" cx="367.7" cy="833.7" rx="5.1" ry="2.5" transform="rotate(-15 367.7 833.7)" style="stroke-width:1.8"/>
<path class="n" d="M372.6 835 L372.6 835.3 L372.6 835.6 L372.4 836 L372.2 836.4 L371.9 836.7 L371.6 837.1 L371.2 837.4 L370.7 837.7 L370.1 838 L369.6 838.3 L368.9 838.5 L368.3 838.7 L367.7 838.9 L367 839 L366.4 839 L365.8 839.1 L365.2 839 L364.7 838.9 L364.2 838.8 L363.7 838.6 L363.4 838.4 L363.1 838.2 L362.9 837.9 L362.8 837.6"/>
<ellipse class="p" cx="382.9" cy="827.4" rx="5.1" ry="2.5" transform="rotate(-15 382.9 827.4)" style="stroke-width:1.8"/>
<path class="n" d="M387.8 828.7 L387.8 829 L387.8 829.4 L387.7 829.7 L387.5 830.1 L387.2 830.5 L386.8 830.8 L386.4 831.2 L385.9 831.5 L385.4 831.8 L384.8 832.1 L384.2 832.3 L383.5 832.5 L382.9 832.6 L382.3 832.7 L381.6 832.8 L381 832.8 L380.4 832.8 L379.9 832.7 L379.4 832.6 L379 832.4 L378.6 832.2 L378.3 831.9 L378.1 831.6 L378 831.3"/>
<path class="n" d="M314.5 832.3 L334.1 838.2" style="stroke-width:2"/>
<path class="n" d="M318.4 829.4 L343.8 836.8" style="stroke-width:2"/>
<path class="n" d="M350.7 837.2 L350.7 845" style="stroke-width:2"/>
<path class="n" d="M364.3 831.7 L364.3 839.5" style="stroke-width:2"/>
<path class="n" d="M379 825.5 L379 834.3" style="stroke-width:2"/>
<path class="n" d="M393.6 818.6 L393.6 827.4" style="stroke-width:2"/>
<path class="n" d="M343.8 856.7 L343.8 848.9" style="stroke-width:2.2"/>
<path class="n" d="M347.5 855.3 L347.5 847.5" style="stroke-width:2.2"/>
<path class="n" d="M351.2 853.9 L351.2 846.1" style="stroke-width:2.2"/>
<path class="n" d="M355 852.5 L355 844.7" style="stroke-width:2.2"/>
<path class="n" d="M358.7 851.1 L358.7 843.3" style="stroke-width:2.2"/>
<path class="n" d="M362.4 849.7 L362.4 841.9" style="stroke-width:2.2"/>
<path class="n" d="M366.1 848.3 L366.1 840.5" style="stroke-width:2.2"/>
<path class="n" d="M369.8 846.9 L369.8 839.1" style="stroke-width:2.2"/>
<path class="n" d="M373.5 845.5 L373.5 837.7" style="stroke-width:2.2"/>
<path class="n" d="M377.2 844.1 L377.2 836.2" style="stroke-width:2.2"/>
<path class="n" d="M380.9 842.7 L380.9 834.8" style="stroke-width:2.2"/>
<path class="n" d="M384.6 841.2 L384.6 833.4" style="stroke-width:2.2"/>
<path class="n" d="M388.4 839.8 L388.4 832" style="stroke-width:2.2"/>
<path class="n" d="M392.1 838.4 L392.1 830.6" style="stroke-width:2.2"/>
<path class="n" d="M395.8 837 L395.8 829.2" style="stroke-width:2.2"/>
<path class="n" d="M399.5 835.6 L399.5 827.8" style="stroke-width:2.2"/>
<path class="t" d="M322.3 854.8 L343.8 856.7 L400.5 834.3"/>
<path class="n" d="M400.5 811.8 L401.4 837.2"/>
<path class="p" d="M308.2 742.7 C308.1 741.7 309.7 738 310.8 737.1 C312 736.3 318.4 734.4 319.7 734.3 C321 734.1 323.4 735.2 324.1 735.8 C324.8 736.5 326.6 740.1 326.7 741 C326.8 742 326 744.8 325.4 745.3 C324.8 745.9 322.3 746 321 746.2 C319.7 746.5 313.7 747.9 312.4 747.6 C311.1 747.2 308.4 743.8 308.2 742.7 Z" style="stroke-width:2.6"/>
<path class="n" d="M315.4 738.4 L315.8 744.7 L321.9 743.6 L321.2 737.5 Z" style="stroke-width:2"/>
<path class="b" d="M311.5 741.4 L315.4 742.1"/>
<path class="p" d="M319.4 749.3 L339.9 747.3 L343.8 751.2 L330.2 753.6 Z" style="stroke-width:1.8"/>
<path class="n" d="M332.1 750.9 L338.9 749.7"/>
<path class="n" d="M341.9 731.7 C343.8 731.4 350.3 729.4 353.6 729.8 C356.8 730.1 359.3 731.1 361.4 733.7 C363.5 736.3 365.5 743.4 366.3 745.4" style="stroke-width:3"/>
<path class="n" d="M341.9 731.7 C343.8 731.4 350.3 729.4 353.6 729.8 C356.8 730.1 359.3 731.1 361.4 733.7 C363.5 736.3 365.5 743.4 366.3 745.4" style="stroke:#fff;stroke-width:0.7000000000000002"/>
<path class="p" d="M330.2 728.8 L330.5 739.5 L341.9 739.5 L341.9 728.8 Z" style="stroke-width:1.9"/>
<ellipse class="p" cx="336" cy="728.8" rx="5.9" ry="2.1" transform="rotate(0 336 728.8)" style="stroke-width:1.9"/>
<path class="n" d="M341.7 739.5 L341.6 739.8 L341.5 740 L341.2 740.3 L340.9 740.5 L340.5 740.7 L340 740.9 L339.5 741.1 L338.8 741.2 L338.2 741.3 L337.5 741.4 L336.8 741.5 L336 741.5 L335.3 741.5 L334.5 741.4 L333.8 741.3 L333.2 741.2 L332.6 741.1 L332 740.9 L331.5 740.7 L331.1 740.5 L330.8 740.3 L330.5 740 L330.4 739.8 L330.4 739.5"/>
<path class="n" d="M330.5 736.6 L341.9 736.6"/>
<ellipse class="p" cx="367.7" cy="748.3" rx="6.6" ry="3.9" transform="rotate(10 367.7 748.3)" style="stroke-width:2"/>
<ellipse class="n" cx="367.7" cy="748.3" rx="3.1" ry="1.8" transform="rotate(10 367.7 748.3)"/>
<path class="ds" d="M334.1 741.5 L327.2 809.8"/>
<path class="p" d="M307.1 774.7 C307.1 773.7 308.8 770.5 309.6 769.8 C310.5 769.1 315.4 768.7 316.1 767.9 C316.8 767 316.5 761.6 316.9 761 C317.3 760.4 319.6 760.8 320 762 C320.4 763.2 320.8 771 320.4 772.7 C320 774.5 317.2 778.8 316.1 779.6 C315 780.3 310.5 780.6 309.6 780.2 C308.8 779.7 307.1 775.7 307.1 774.7 Z" style="stroke-width:1.9"/>
<ellipse class="n" cx="313" cy="775.7" rx="1.8" ry="2.8" transform="rotate(10 313 775.7)" style="stroke-width:1.9"/>
<path class="ds" d="M320.4 778.6 L341.9 785.4"/>
<path class="p" d="M353.1 787.6 L349 792.8 L342.6 791.6 L340.4 785.2 L344.5 780 L350.9 781.2 Z" style="stroke-width:2.6"/>
<ellipse class="n" cx="347.3" cy="786.4" rx="2.9" ry="3.5" transform="rotate(10 347.3 786.4)" style="stroke-width:2"/>
<path class="t" d="M344.5 780 L344 790.2"/>
<path class="p" d="M358.5 782.9 L369.2 785.4 L369.2 798.1 L358.5 795.2 Z"/>
<ellipse class="p" cx="359.8" cy="788.9" rx="3.5" ry="6.4" transform="rotate(10 359.8 788.9)" style="stroke-width:1.9"/>
<path class="n" d="M359.8 782.5 L370.2 785.4" style="stroke-width:1.9"/>
<path class="n" d="M359.8 795.4 L369.2 798.1" style="stroke-width:1.9"/>
<ellipse class="p" cx="369.2" cy="791.9" rx="3.5" ry="6.4" transform="rotate(10 369.2 791.9)" style="stroke-width:1.9"/>
<path class="n" d="M370.2 793.3 L369.5 794.2 L368.8 794.4 L368.2 793.9 L367.8 792.9 L367.9 791.6 L368.3 790.4 L368.9 789.6 L369.7 789.4 L370.3 789.8 L370.6 790.8" style="stroke-width:1.6"/>
<ellipse class="p" cx="427.4" cy="831.7" rx="6.6" ry="7.8" transform="rotate(10 427.4 831.7)" style="stroke-width:2.2"/>
<ellipse class="n" cx="427.4" cy="831.7" rx="2.8" ry="3.7" transform="rotate(10 427.4 831.7)" style="stroke-width:1.5"/>
<ellipse class="p" cx="387.2" cy="868" rx="6.8" ry="7.4" transform="rotate(10 387.2 868)" style="stroke-width:2.4"/>
<ellipse class="n" cx="387.2" cy="868" rx="2.9" ry="3.6" transform="rotate(10 387.2 868)" style="stroke-width:1.5"/>
<path class="n" d="M422.9 837.2 L419 852.8 L393.6 863.6"/>
<path class="p" d="M456.7 814.7 L496.7 822.7 L496.7 829.3 L456 820.7 Z"/>
<path class="b" d="M460 818.3 L480 822.3" stroke-dasharray="3 2"/>
<path class="p" d="M496.7 821.7 C497.6 820.2 502.4 821.2 504 821.7 C505.6 822.1 508 823.7 508.7 825 C509.3 826.3 509.3 830.3 508.7 831.7 C508 833 505.6 834.9 504 835 C502.4 835.1 497.6 834.4 496.7 832.7 C495.7 830.9 495.7 823.1 496.7 821.7 Z" style="stroke-width:1.9"/>
</g>
<g id="p_br">
<path class="ds" d="M560 707.4 L581.9 712"/>
<path class="n" d="M616.5 718.4 L627.8 721.1"/>
<path class="n" d="M601.6 732.1 C602.2 733.3 605.2 736.7 605.6 739.3 C605.9 742 605.3 745.3 603.7 747.9 C602.2 750.5 599.2 753.3 596.5 754.8 C593.7 756.4 591.6 757.4 587.3 757 C583.1 756.7 576.7 754.4 570.9 752.7 C565.2 750.9 555.7 747.6 552.7 746.6" style="stroke-width:5.4"/>
<path class="n" d="M601.6 732.1 C602.2 733.3 605.2 736.7 605.6 739.3 C605.9 742 605.3 745.3 603.7 747.9 C602.2 750.5 599.2 753.3 596.5 754.8 C593.7 756.4 591.6 757.4 587.3 757 C583.1 756.7 576.7 754.4 570.9 752.7 C565.2 750.9 555.7 747.6 552.7 746.6" style="stroke:#fff;stroke-width:2.6"/>
<path class="n" d="M552.7 744.8 L549.1 745.7 L552.7 747.9"/>
<path class="n" d="M608.9 667.3 C609.5 668.9 612.4 672.2 612.9 676.5 C613.3 680.7 612.6 687.4 611.4 692.9 C610.2 698.3 607.3 703.8 605.9 709.3 C604.5 714.7 603.8 721.7 603 725.7 C602.2 729.7 601.5 732.1 601.2 733.3" style="stroke-width:3.6"/>
<path class="n" d="M608.9 667.3 C609.5 668.9 612.4 672.2 612.9 676.5 C613.3 680.7 612.6 687.4 611.4 692.9 C610.2 698.3 607.3 703.8 605.9 709.3 C604.5 714.7 603.8 721.7 603 725.7 C602.2 729.7 601.5 732.1 601.2 733.3" style="stroke:#fff;stroke-width:1.1"/>
<path class="p" d="M604.7 652.8 L615.6 657.3 L612.3 667.3 L607 665.5 L605.6 668.3 L601.6 667 L602.8 663.3 L601 662.8 Z" style="stroke-width:1.9"/>
<path class="n" d="M603.7 658.2 L613.8 662.2"/>
<path class="p" d="M581.9 710.2 L597.4 703.8 L601.2 707.4 L601.2 716.6 L585.5 723.8 L581.9 720.2 Z" style="stroke-width:2"/>
<path class="n" d="M581.9 710.2 L585.9 713.3 L601.2 707.4"/>
<path class="n" d="M585.9 713.3 L585.5 723.8"/>
<path class="n" d="M590.1 712 L596.5 709.6 L596.5 716.6 L590.6 718.7 Z" style="stroke-width:1.8"/>
<path class="b" d="M593.2 711.5 L593.4 717.5"/>
<path class="p" d="M607 713.8 L615.6 710.2 L616.9 720.2 L607.8 724.9 Z" style="stroke-width:2"/>
<path class="n" d="M609.2 715.6 L613.8 713.8 L614.3 719.3 L609.6 721.5 Z"/>
<path class="n" d="M604.7 718.4 L604.7 725.7 L607.8 724.9"/>
<path class="p" d="M627.4 720.2 L649.7 724.9 L649.7 730.4 L627.8 725.3 Z" style="stroke-width:1.9"/>
<path class="n" d="M629.6 720.9 L629.3 725.5"/>
<path class="n" d="M631.8 721.4 L631.5 726"/>
<path class="n" d="M634 721.9 L633.6 726.4"/>
<path class="n" d="M636.2 722.4 L635.8 726.9"/>
<path class="n" d="M638.4 722.8 L638 727.4"/>
<path class="n" d="M640.6 723.3 L640.2 727.9"/>
<path class="n" d="M642.8 723.8 L642.4 728.3"/>
<path class="n" d="M644.9 724.3 L644.6 728.8"/>
<path class="n" d="M647.1 724.7 L646.8 729.3"/>
<path class="p" d="M649.7 723.8 C650.1 722.9 653.8 722.7 654.8 722.9 C655.8 723.2 658.8 725.3 659.3 726 C659.9 726.8 660.2 730 659.9 730.8 C659.6 731.6 657.6 733.7 656.6 733.9 C655.6 734 650.9 733.1 650.2 732.1 C649.5 731 649.2 724.8 649.7 723.8 Z" style="stroke-width:2"/>
<path class="n" d="M654.8 725.7 L656.2 732.1"/>
<path class="b" d="M656.6 727.5 L659.3 729"/>
<ellipse class="n" cx="627.4" cy="753.9" rx="13.5" ry="22.6" transform="rotate(12 627.4 753.9)" style="stroke-width:3"/>
<path class="n" d="M562.7 775.2 L572.1 778.3"/>
<path class="n" d="M576.2 785.6 L594 782.9"/>
<path class="p" d="M572.1 776.7 C572.6 776 575.2 774.6 576.2 774.6 C577.3 774.5 581.9 775.2 582.5 776.2 C583.1 777.2 583.3 783.8 582.5 784.6 C581.7 785.4 575.7 784.5 574.6 784.2 C573.4 783.8 571.3 781.6 571 780.8 C570.8 780.1 571.6 777.3 572.1 776.7 Z" style="stroke-width:1.9"/>
<path class="p" d="M581.7 775.2 L587.1 773.1 L591.2 778.3 L590.4 786.2 L585 788.3 L581.7 784.6 Z" style="stroke-width:2"/>
<path class="n" d="M585 778.3 L590.8 780.4"/>
<path class="n" d="M585 778.3 L585 788.3"/>
<ellipse class="n" cx="587.9" cy="782.9" rx="1.6" ry="2.4" transform="rotate(10 587.9 782.9)"/>
<path class="p" d="M600.6 785.4 L625.2 790.4 L624.8 794.2 L600 789 Z" style="stroke-width:1.8"/>
<path class="n" d="M603.3 787.7 L617.9 790.8" stroke-dasharray="3 2"/>
<ellipse class="p" cx="627.7" cy="792.5" rx="2.9" ry="4.2" transform="rotate(12 627.7 792.5)" style="stroke-width:2.2"/>
<path class="n" d="M544 798.1 L552.3 800.8"/>
<path class="p" d="M552.3 799.2 C552.8 798.5 555.5 797.1 556.5 797.1 C557.4 797.1 561.1 798.1 561.7 799.2 C562.2 800.2 562.3 806.7 561.7 807.5 C561 808.3 556.5 807.5 555.4 807.1 C554.4 806.7 551.6 804.1 551.2 803.3 C550.9 802.5 551.8 799.8 552.3 799.2 Z" style="stroke-width:1.9"/>
<path class="p" d="M560.8 799.2 L566.2 798.1 L570.4 802.3 L569.6 810 L564.2 811.7 L560.8 807.9 Z" style="stroke-width:2"/>
<path class="n" d="M564.2 802.9 L570 804.4"/>
<path class="n" d="M564.2 802.9 L564.2 811.7"/>
<ellipse class="n" cx="567.1" cy="806.7" rx="1.6" ry="2.4" transform="rotate(10 567.1 806.7)"/>
<ellipse class="p" cx="576.2" cy="808.5" rx="2.9" ry="3.6" transform="rotate(10 576.2 808.5)" style="stroke-width:2.4"/>
<ellipse class="n" cx="576.2" cy="808.5" rx="1.2" ry="1.7" transform="rotate(10 576.2 808.5)" style="stroke-width:1.5"/>
<ellipse class="p" cx="584.6" cy="810.6" rx="2.6" ry="3.6" transform="rotate(10 584.6 810.6)" style="stroke-width:1.8"/>
<ellipse class="n" cx="584.6" cy="810.6" rx="1.1" ry="1.7" transform="rotate(10 584.6 810.6)" style="stroke-width:1.5"/>
<path class="p" d="M600.5 815.7 L597.2 819.9 L592.1 818.9 L590.4 813.9 L593.7 809.7 L598.7 810.7 Z" style="stroke-width:2.6"/>
<ellipse class="n" cx="595.9" cy="814.8" rx="2.3" ry="2.8" transform="rotate(10 595.9 814.8)" style="stroke-width:2"/>
<path class="t" d="M593.7 809.7 L593.2 817.8"/>
<path class="n" d="M588.8 812.7 L591.2 813.3"/>
<path class="p" d="M530.4 895 L546.7 889.6 L548.8 892.9 L548.3 904.4 L531.5 911.2 L529.4 907.5 Z" style="stroke-width:2"/>
<path class="n" d="M530.4 895 L532.9 898.1 L548.8 892.9"/>
<path class="n" d="M532.9 898.1 L531.5 911.2"/>
<path class="n" d="M535.6 897.5 L542.9 895 L542.9 901.2 L536.2 903.8 Z" style="stroke-width:1.8"/>
<path class="b" d="M539.2 896.2 L539.4 902.5"/>
<path class="p" d="M547.1 903.3 L562.7 898.1 L564.2 909.2 L548.8 914.2 Z" style="stroke-width:2"/>
<path class="n" d="M551.2 904.4 L559.6 901.7 L560 907.5 L551.7 910 Z" style="stroke-width:1.8"/>
<path class="b" d="M555.4 903.3 L555.6 909.2"/>
<path class="n" d="M563.3 903.3 C563.5 900.6 563.7 891.5 564.2 886.7 C564.7 881.8 565.1 877.3 566.2 874.2 C567.4 871 569.4 869.2 571 867.9 C572.7 866.6 575.4 866.5 576.2 866.2" style="stroke-width:3.6"/>
<path class="n" d="M563.3 903.3 C563.5 900.6 563.7 891.5 564.2 886.7 C564.7 881.8 565.1 877.3 566.2 874.2 C567.4 871 569.4 869.2 571 867.9 C572.7 866.6 575.4 866.5 576.2 866.2" style="stroke:#fff;stroke-width:1.1"/>
<path class="p" d="M574.6 864.8 L580.4 863.3 L587.1 867.9 L586.2 871.7 L581.5 872.5 L575.8 869 Z" style="stroke-width:1.9"/>
<ellipse class="n" cx="581.5" cy="867.9" rx="1.6" ry="1.6" transform="rotate(0 581.5 867.9)"/>
<path class="p" d="M572.1 908.5 L595 913.8 L594.6 920.4 L572.5 913.8 Z" style="stroke-width:1.9"/>
<path class="n" d="M574.2 909.2 L573.8 914.2"/>
<path class="n" d="M576.5 909.7 L576 914.7"/>
<path class="n" d="M578.8 910.2 L578.3 915.2"/>
<path class="n" d="M581 910.7 L580.6 915.7"/>
<path class="n" d="M583.3 911.2 L582.9 916.2"/>
<path class="n" d="M585.6 911.8 L585.2 916.8"/>
<path class="n" d="M587.9 912.3 L587.5 917.3"/>
<path class="n" d="M590.2 912.8 L589.8 917.8"/>
<path class="n" d="M592.5 913.3 L592.1 918.3"/>
<path class="p" d="M595 912.9 C595.6 912 599.2 912.2 600.2 912.5 C601.2 912.8 604.5 915 605 915.8 C605.5 916.7 605.8 920.2 605.4 921 C605.1 921.9 602.8 924.5 601.7 924.6 C600.6 924.6 595.2 922.8 594.6 921.7 C593.9 920.5 594.4 913.8 595 912.9 Z" style="stroke-width:2"/>
<path class="n" d="M600.2 915.4 L601.2 922.5"/>
<path class="b" d="M602.1 917.5 L605 918.8"/>
<path class="p" d="M447 604.1 L443.2 608.8 L437.4 607.8 L435.4 601.9 L439.2 597.2 L445 598.3 Z" style="stroke-width:2.6"/>
<ellipse class="n" cx="441.7" cy="603" rx="2.6" ry="3.2" transform="rotate(10 441.7 603)" style="stroke-width:2"/>
<path class="t" d="M439.2 597.2 L438.7 606.5"/>
<ellipse class="p" cx="458.3" cy="605.6" rx="4.8" ry="6.4" transform="rotate(10 458.3 605.6)" style="stroke-width:2.6"/>
<ellipse class="n" cx="458.3" cy="605.6" rx="2" ry="3.1" transform="rotate(10 458.3 605.6)" style="stroke-width:1.5"/>
<path class="p" d="M467.4 600.8 L483.1 596.5 L484.6 611 L469.3 616.5 Z" style="stroke-width:2"/>
<path class="n" d="M467.4 600.8 L471.1 603.7 L484.6 599.4"/>
<path class="n" d="M471.1 603.7 L471.1 615.4"/>
<ellipse class="k" cx="474.7" cy="608.5" rx="1.4" ry="1.9" transform="rotate(0 474.7 608.5)"/>
<path class="ds" d="M482 611 L495.5 614"/>
<path class="p" d="M492 608.6 L507.7 605.1 L521.3 607.9 L522 626.2 L508.4 629.7 L490.1 626.4 L490.1 621.7 L502.3 619.4 L502.3 613.7 L492 611.4 Z" style="stroke-width:2"/>
<path class="n" d="M507.7 605.1 L508.4 629.7"/>
<path class="n" d="M502.3 613.7 L507.7 611.4"/>
<path class="n" d="M518.3 608.6 L518.7 627.3"/>
<path class="n" d="M502.3 619.4 L508.4 621.7"/>
<path class="n" d="M513.1 619.8 L512.4 620.6 L511.5 620.7 L510.7 620.3 L510.1 619.3 L509.9 618 L510.1 616.6 L510.7 615.6 L511.5 615.2 L512.4 615.4 L513.1 616.2" style="stroke-width:1.7"/>
</g>
<g id="p_bl">
<path class="ds" d="M104.2 777.5 L92.7 774.4 L89.6 803.5 L229.2 855.6 L224 914 L168.8 894.6"/>
<path class="n" d="M159.4 798.3 L166.7 800.8"/>
<path class="p" d="M105.2 777.5 L110.4 775.8 L114.6 780.6 L113.5 784.8 L108.3 785.4 L105.2 781.7 Z" style="stroke-width:1.9"/>
<ellipse class="n" cx="109.4" cy="780.6" rx="1.6" ry="2" transform="rotate(0 109.4 780.6)"/>
<path class="p" d="M144.8 791.7 L159.4 796.7 L158.8 800 L144.8 795.2 Z"/>
<path class="p" d="M132.3 786.2 L145.8 790 L145.4 795.8 L131.7 793.1 Z" style="stroke-width:1.9"/>
<path class="n" d="M134.2 787.1 L133.8 792.9" style="stroke-width:1.8"/>
<path class="n" d="M136.2 787.7 L135.8 793.5" style="stroke-width:1.8"/>
<path class="n" d="M138.3 788.2 L137.9 794.1" style="stroke-width:1.8"/>
<path class="n" d="M140.4 788.8 L140 794.7" style="stroke-width:1.8"/>
<path class="n" d="M142.5 789.4 L142.1 795.2" style="stroke-width:1.8"/>
<path class="n" d="M144.6 790 L144.2 795.8" style="stroke-width:1.8"/>
<path class="p" d="M117.7 777.5 L132.3 782.7 L130.8 796.7 L116.7 792.1 Z"/>
<path class="n" d="M115.9 792.1 L115.3 791.8 L114.7 791.2 L114.3 790.4 L114 789.3 L113.8 788.1 L113.8 786.8 L114 785.4 L114.3 783.9 L114.7 782.5 L115.2 781.2 L115.9 780 L116.6 779 L117.3 778.3 L118.1 777.7 L118.8 777.5 L119.5 777.5" style="stroke-width:1.9"/>
<path class="n" d="M118.8 777.5 L132.9 782.9" style="stroke-width:1.9"/>
<path class="n" d="M116.7 792.1 L130.2 796.7" style="stroke-width:1.9"/>
<ellipse class="p" cx="131.7" cy="790" rx="3.5" ry="7.1" transform="rotate(14 131.7 790)" style="stroke-width:1.9"/>
<ellipse class="n" cx="131.7" cy="790" rx="1.9" ry="3.8" transform="rotate(14 131.7 790)" style="stroke-width:2.2"/>
<path class="p" d="M148.3 752.9 L163.5 756.7 L162.9 760.8 L148.3 757.5 Z" style="stroke-width:1.8"/>
<path class="p" d="M142.7 752.1 L146.2 750 L149.6 752.1 L149.6 757.7 L146.2 759.6 L142.9 757.5 Z" style="stroke-width:2.2"/>
<path class="n" d="M146.2 750 L146.2 759.6"/>
<path class="p" d="M157.9 815.4 L171.9 818.8 L171.2 822.9 L157.9 820 Z" style="stroke-width:1.8"/>
<path class="p" d="M152.1 814 L155.8 811.9 L159.2 814.2 L159.2 820 L155.8 822.1 L152.3 819.6 Z" style="stroke-width:2.2"/>
<path class="n" d="M155.8 811.9 L155.8 822.1"/>
<path class="ds" d="M80.2 857.7 L122.9 874.4"/>
<path class="p" d="M96.8 862.6 L92.8 867.7 L86.6 866.5 L84.5 860.3 L88.5 855.3 L94.7 856.4 Z" style="stroke-width:2.6"/>
<ellipse class="n" cx="91.1" cy="861.5" rx="2.8" ry="3.4" transform="rotate(10 91.1 861.5)" style="stroke-width:2"/>
<path class="t" d="M88.5 855.3 L88 865.2"/>
<ellipse class="p" cx="102.5" cy="866" rx="4.4" ry="5.4" transform="rotate(10 102.5 866)" style="stroke-width:2.2"/>
<ellipse class="n" cx="102.5" cy="866" rx="1.8" ry="2.6" transform="rotate(10 102.5 866)" style="stroke-width:1.5"/>
<path class="p" d="M108.3 878.5 C109.1 878 116.6 880 117.7 879.6 C118.8 879.1 120.7 874.1 121.9 873.3 C123 872.6 130 870.7 131.2 870.8 C132.5 871 136.4 874.3 136.7 875.4 C137 876.5 135.9 882.6 135 883.8 C134.1 884.9 126.9 888.7 125.4 889.2 C123.9 889.6 118.1 889.4 116.7 889.2 C115.2 888.9 109 887.1 108.3 886.2 C107.6 885.4 107.6 879.1 108.3 878.5 Z" style="stroke-width:2"/>
<path class="b" d="M112.9 882.1 L113.3 884.8"/>
<path class="n" d="M121.9 879.6 L122.5 885.8"/>
<path class="n" d="M132 880.7 L131.1 881.4 L130.1 881.4 L129.3 880.8 L128.8 879.6 L128.9 878.2 L129.3 876.8 L130.2 875.9 L131.1 875.6 L132.1 875.9 L132.7 876.9" style="stroke-width:1.7"/>
<path class="n" d="M138.5 885.8 C139.2 884.4 140.4 881.3 142.7 877.5 C145 873.7 148.2 867.5 152.5 862.9 C156.8 858.3 163.4 852.4 168.8 850 C174.1 847.6 180.4 847.2 184.4 848.3 C188.4 849.4 190.7 854.2 192.7 856.7 C194.7 859.2 195.7 862.2 196.2 863.3" style="stroke-width:2.4"/>
<path class="p" d="M137.5 885.8 L142.1 887.5 L137.5 900.4 L133.8 898.8 Z" style="stroke-width:1.9"/>
<path class="n" d="M137.1 888.3 L140.4 889.6"/>
<path class="n" d="M136.2 890.6 L139.6 891.9"/>
<path class="n" d="M135.4 892.9 L138.8 894.2"/>
<path class="n" d="M134.6 895.2 L137.9 896.5"/>
<path class="n" d="M133.8 897.5 L137.1 898.8"/>
<ellipse class="p" cx="132.5" cy="912.9" rx="4.6" ry="7.5" transform="rotate(25 132.5 912.9)" style="stroke-width:2.2"/>
<ellipse class="n" cx="132.5" cy="912.9" rx="2.1" ry="4.2" transform="rotate(25 132.5 912.9)" style="stroke-width:1.8"/>
<path class="b" d="M134.4 899.4 L133.3 905.6"/>
<path class="p" d="M190.6 894.6 L202.5 891.7 L200.4 909.2 L191.7 914.2 Z" style="stroke-width:2"/>
<ellipse class="n" cx="196.9" cy="904.6" rx="1.5" ry="2.6" transform="rotate(10 196.9 904.6)" style="stroke-width:1.7"/>
<path class="p" d="M182.3 867.1 L191.7 861.9 L206.2 865 L205.2 890 L192.9 895.4 L182.3 893.1 Z" style="stroke-width:2"/>
<path class="n" d="M182.3 867.1 L193.8 870.4 L206.2 865"/>
<path class="n" d="M193.8 870.4 L192.9 895.4"/>
<ellipse class="p" cx="195.8" cy="864.6" rx="2.9" ry="1.7" transform="rotate(0 195.8 864.6)" style="stroke-width:1.8"/>
<path class="p" d="M158.7 888 L154.6 893.1 L148.5 891.9 L146.3 885.7 L150.4 880.7 L156.5 881.8 Z" style="stroke-width:2.6"/>
<ellipse class="n" cx="153" cy="886.9" rx="2.8" ry="3.4" transform="rotate(10 153 886.9)" style="stroke-width:2"/>
<path class="t" d="M150.4 880.7 L149.9 890.6"/>
<ellipse class="p" cx="164.2" cy="891" rx="4.8" ry="6" transform="rotate(10 164.2 891)" style="stroke-width:2.2"/>
<ellipse class="n" cx="164.2" cy="891" rx="2" ry="2.9" transform="rotate(10 164.2 891)" style="stroke-width:1.5"/>
</g>
<g id="p_labels">
<path class="ld" d="M270 154 L285 159"/>
<path class="ld" d="M441 207 L456 228"/>
<path class="ld" d="M478 215 L479 231"/>
<path class="ld" d="M515 209 L519 230"/>
<path class="ld" d="M543 214 L540 232"/>
<path class="ld" d="M569 214 L565 232"/>
<path class="ld" d="M609 225 L608 248"/>
<path class="ld" d="M287 323 L236 375"/>
<path class="ld" d="M306 349 L307 366"/>
<path class="ld" d="M366 360 L366 381"/>
<path class="ld" d="M423 349 L438 375"/>
<path class="ld" d="M517 360 L497 360"/>
<path class="ld" d="M545 388 L541 410"/>
<path class="ld" d="M620 396 L597 414"/>
<path class="ld" d="M177 445 L189 427"/>
<path class="ld" d="M243 443 L254 424"/>
<path class="ld" d="M366 478 L386 443"/>
<path class="ld" d="M608 534 L596 506"/>
<path class="ld" d="M641 532 L626 508"/>
<path class="ld" d="M484 561 L492 528"/>
<path class="ld" d="M549 571 L539 563"/>
<path class="ld" d="M131 510 L152 521"/>
<path class="ld" d="M118 522 L152 522"/>
<path class="ld" d="M237 542 L257 524"/>
<path class="ld" d="M263 548 L258 524"/>
<path class="ld" d="M162 588 L162 610"/>
<path class="ld" d="M209 593 L209 622"/>
<path class="ld" d="M237 607 L237 625"/>
<path class="ld" d="M336 572 L326 600"/>
<path class="ld" d="M402 580 L402 622"/>
<path class="ld" d="M438 585 L439 597"/>
<path class="ld" d="M464 589 L460 600"/>
<path class="ld" d="M494 583 L477 600"/>
<path class="ld" d="M528 594 L520 612"/>
<path class="ld" d="M586 622 L560 655"/>
<path class="ld" d="M418 603 L419 652"/>
<path class="ld" d="M253 662 L253 645"/>
<path class="ld" d="M337 662 L342 646"/>
<path class="ld" d="M359 660 L360 652"/>
<path class="ld" d="M404 674 L392 668"/>
<path class="ld" d="M344 688 L352 688"/>
<path class="ld" d="M360 709 L366 690"/>
<path class="ld" d="M375 712 L378 698"/>
<path class="ld" d="M398 717 L400 705"/>
<path class="ld" d="M588 686 L593 704"/>
<path class="ld" d="M628 686 L612 712"/>
<path class="ld" d="M650 706 L636 722"/>
<path class="ld" d="M654 758 L638 758"/>
<path class="ld" d="M602 766 L597 757"/>
<path class="ld" d="M653 794 L636 794"/>
<path class="ld" d="M621 818 L603 818"/>
<path class="ld" d="M249 708 L276 760"/>
<path class="ld" d="M276 716 L297 765"/>
<path class="ld" d="M297 732 L312 772"/>
<path class="ld" d="M155 730 L155 752"/>
<path class="ld" d="M187 730 L187 752"/>
<path class="ld" d="M120 760 L120 778"/>
<path class="ld" d="M250 807 L260 788"/>
<path class="ld" d="M270 813 L273 796"/>
<path class="ld" d="M290 813 L290 800"/>
<path class="ld" d="M148 833 L158 822"/>
<path class="ld" d="M88 833 L88 855"/>
<path class="ld" d="M105 850 L105 862"/>
<path class="ld" d="M172 873 L165 882"/>
<path class="ld" d="M254 895 L205 873"/>
<path class="ld" d="M112 901 L118 888"/>
<path class="ld" d="M162 914 L162 898"/>
<path class="ld" d="M348 772 L348 782"/>
<path class="ld" d="M368 776 L352 788"/>
<path class="ld" d="M368.5 758.4 L339.5 741.4"/>
<path class="ld" d="M375.3 757.7 L371.4 751.2"/>
<path class="ld" d="M384 776 L392 786"/>
<path class="ld" d="M475 850 L475 828"/>
<path class="ld" d="M553 822 L553 808"/>
<path class="ld" d="M572 830 L576 813"/>
<path class="ld" d="M577 830 L584 814"/>
<path class="ld" d="M541 867 L541 888"/>
<path class="ld" d="M610 866 L586 866"/>
<path class="ld" d="M594 900 L586 912"/>
<text class="l" x="259" y="157" text-anchor="middle">22</text>
<text class="l" x="437" y="203" text-anchor="middle">21</text>
<text class="l" x="477" y="211" text-anchor="middle">20</text>
<text class="l" x="513" y="205" text-anchor="middle">19</text>
<text class="l" x="543" y="210" text-anchor="middle">18</text>
<text class="l" x="568" y="210" text-anchor="middle">17</text>
<text class="l" x="608" y="220" text-anchor="middle">16</text>
<text class="l" x="293" y="322" text-anchor="middle">14</text>
<text class="l" x="305" y="345" text-anchor="middle">13</text>
<text class="l" x="366" y="355" text-anchor="middle">12</text>
<text class="l" x="422" y="345" text-anchor="middle">10</text>
<text class="l" x="527" y="365" text-anchor="middle">11</text>
<text class="l" x="545" y="384" text-anchor="middle">9</text>
<text class="l" x="631.5" y="396" text-anchor="middle">5</text>
<text class="l" x="169" y="460" text-anchor="middle">15</text>
<text class="l" x="239" y="458" text-anchor="middle">4</text>
<text class="l" x="359" y="490" text-anchor="middle">7</text>
<text class="l" x="611.5" y="549" text-anchor="middle">3</text>
<text class="l" x="644.6" y="547" text-anchor="middle">2</text>
<text class="l" x="482.6" y="576" text-anchor="middle">6</text>
<text class="l" x="557.6" y="582" text-anchor="middle">8</text>
<text class="l" x="120" y="509" text-anchor="middle">62</text>
<text class="l" x="105.7" y="528" text-anchor="middle">61</text>
<text class="l" x="226.7" y="556.7" text-anchor="middle">59</text>
<text class="l" x="264" y="563" text-anchor="middle">63</text>
<text class="l" x="161.7" y="584" text-anchor="middle">42</text>
<text class="l" x="209" y="589" text-anchor="middle">43</text>
<text class="l" x="237" y="602.7" text-anchor="middle">47</text>
<text class="l" x="335" y="567.7" text-anchor="middle">50</text>
<text class="l" x="402" y="575" text-anchor="middle">44</text>
<text class="l" x="438.3" y="580.7" text-anchor="middle">33</text>
<text class="l" x="464.5" y="585" text-anchor="middle">43</text>
<text class="l" x="502" y="585" text-anchor="middle">34</text>
<text class="l" x="530.5" y="589.8" text-anchor="middle">35</text>
<text class="l" x="589.6" y="616" text-anchor="middle">23</text>
<text class="l" x="418" y="598.5" text-anchor="middle">46</text>
<text class="l" x="252.5" y="677" text-anchor="middle">48</text>
<text class="l" x="335" y="677" text-anchor="middle">47</text>
<text class="l" x="358.6" y="675" text-anchor="middle">48</text>
<text class="l" x="413" y="682" text-anchor="middle">45</text>
<text class="l" x="332" y="695" text-anchor="middle">33</text>
<text class="l" x="352" y="723" text-anchor="middle">43</text>
<text class="l" x="374" y="727" text-anchor="middle">40</text>
<text class="l" x="396" y="732" text-anchor="middle">41</text>
<text class="l" x="587" y="681.7" text-anchor="middle">36</text>
<text class="l" x="629" y="681" text-anchor="middle">38</text>
<text class="l" x="654" y="701.7" text-anchor="middle">32</text>
<text class="l" x="668.7" y="763" text-anchor="middle">24</text>
<text class="l" x="602" y="780" text-anchor="middle">39</text>
<text class="l" x="558.6" y="794" text-anchor="middle">26</text>
<text class="l" x="662.5" y="799" text-anchor="middle">35</text>
<text class="l" x="633" y="823" text-anchor="middle">30</text>
<text class="l" x="246.7" y="704" text-anchor="middle">54</text>
<text class="l" x="273" y="711.7" text-anchor="middle">55</text>
<text class="l" x="295" y="729.5" text-anchor="middle">57</text>
<text class="l" x="155" y="725.7" text-anchor="middle">52</text>
<text class="l" x="186.7" y="725" text-anchor="middle">51</text>
<text class="l" x="120" y="755" text-anchor="middle">29</text>
<text class="l" x="246.7" y="821.7" text-anchor="middle">30</text>
<text class="l" x="269" y="827.7" text-anchor="middle">28</text>
<text class="l" x="290" y="827.7" text-anchor="middle">31</text>
<text class="l" x="140" y="847.7" text-anchor="middle">60</text>
<text class="l" x="88" y="828" text-anchor="middle">54</text>
<text class="l" x="105" y="845" text-anchor="middle">55</text>
<text class="l" x="168" y="871" text-anchor="middle">54</text>
<text class="l" x="270.7" y="906.7" text-anchor="middle">56</text>
<text class="l" x="105.7" y="915.7" text-anchor="middle">57</text>
<text class="l" x="162" y="929" text-anchor="middle">58</text>
<text class="l" x="348" y="767.7" text-anchor="middle">54</text>
<text class="l" x="376" y="774" text-anchor="middle">49</text>
<text class="l" x="427.7" y="867.7" text-anchor="middle">27</text>
<text class="l" x="475" y="865.7" text-anchor="middle">49</text>
<text class="l" x="552.5" y="837" text-anchor="middle">26</text>
<text class="l" x="574" y="845" text-anchor="middle">53</text>
<text class="l" x="541" y="862.5" text-anchor="middle">36</text>
<text class="l" x="624.7" y="871.6" text-anchor="middle">37</text>
<text class="l" x="594.6" y="896.9" text-anchor="middle">32</text>
</g>
<g id="p_wm">
<g style="fill:none;stroke:#3f6996;stroke-width:3.6;stroke-linecap:butt;stroke-linejoin:miter;opacity:0.96">
<path class="x" d="M336.2 515.2 L363.8 515.2"/>
<path class="x" d="M343.8 512.5 L343.8 518.1"/>
<path class="x" d="M356.2 512.5 L356.2 518.1"/>
<path class="x" d="M340.6 520.6 L359.7 520.6"/>
<path class="x" d="M340.6 520.6 L340.6 525.9"/>
<path class="x" d="M359.7 520.6 L359.7 525.9"/>
<path class="x" d="M335.9 525.9 L364.1 525.9"/>
<path class="x" d="M350 518.1 L350 525.9"/>
<path class="x" d="M350 525.9 L345.3 530.5 L337.2 533.4"/>
<path class="x" d="M350 525.9 L355.5 530.5 L363.4 533.4"/>
<path class="x" d="M383.6 512.8 L377.3 517.5 L370 521.2"/>
<path class="x" d="M383.6 512.8 L389.8 517.5 L397.8 521.2"/>
<path class="x" d="M376.9 520 L390.6 520"/>
<path class="x" d="M373.1 525 L394.1 525"/>
<path class="x" d="M383.6 520 L383.6 532"/>
<path class="x" d="M375.3 526.9 L377.8 530.6"/>
<path class="x" d="M391.9 526.9 L389.4 530.6"/>
<path class="x" d="M370 532.2 L397.8 532.2"/>
<path class="x" d="M410.6 513.1 L407 516.2 L403.1 518.4"/>
<path class="x" d="M403.9 516.2 L408.6 520 L409.4 526.6 L409.1 532 L406.2 533.4"/>
<path class="x" d="M402.8 525 L407.8 521.9 L410.2 520"/>
<path class="x" d="M415 514.4 L415 526.6 L412.5 533.1"/>
<path class="x" d="M412.5 517.2 L412.5 525"/>
<path class="x" d="M418.1 514.4 L431.6 514.4"/>
<path class="x" d="M425 514.4 L425 533.4"/>
<path class="x" d="M419.7 519.1 L430.6 519.1"/>
<path class="x" d="M419.7 519.1 L419.7 530.9"/>
<path class="x" d="M430.6 519.1 L430.6 529.7 L428.8 530.9"/>
</g>
</g>
</svg>
</body></html>
